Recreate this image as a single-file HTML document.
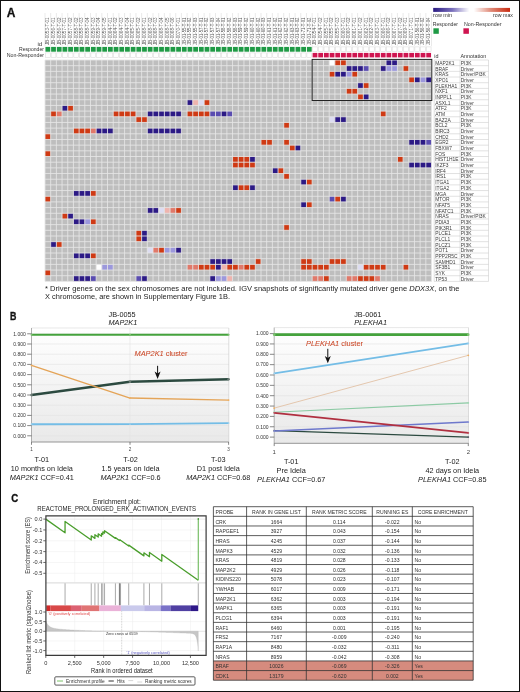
<!DOCTYPE html>
<html><head><meta charset="utf-8"><title>Figure</title>
<style>html,body{margin:0;padding:0;background:#fff;}body{width:520px;height:692px;overflow:hidden;font-family:"Liberation Sans", sans-serif;}svg{display:block;will-change:transform;}</style>
</head><body>
<svg width="520" height="692" viewBox="0 0 520 692" font-family='"Liberation Sans", sans-serif'>
<rect x="0" y="0" width="520" height="692" fill="#fff"/>
<text x="6.8" y="16.6" font-size="12" fill="#111" font-weight="bold" stroke="#111" stroke-width="0.3">A</text>
<g stroke="#d4d4d4" stroke-width="0.5">
<line x1="45" y1="13" x2="45" y2="46.3"/>
<line x1="50.68" y1="13" x2="50.68" y2="46.3"/>
<line x1="56.37" y1="13" x2="56.37" y2="46.3"/>
<line x1="62.05" y1="13" x2="62.05" y2="46.3"/>
<line x1="67.74" y1="13" x2="67.74" y2="46.3"/>
<line x1="73.42" y1="13" x2="73.42" y2="46.3"/>
<line x1="79.1" y1="13" x2="79.1" y2="46.3"/>
<line x1="84.79" y1="13" x2="84.79" y2="46.3"/>
<line x1="90.47" y1="13" x2="90.47" y2="46.3"/>
<line x1="96.16" y1="13" x2="96.16" y2="46.3"/>
<line x1="101.84" y1="13" x2="101.84" y2="46.3"/>
<line x1="107.52" y1="13" x2="107.52" y2="46.3"/>
<line x1="113.21" y1="13" x2="113.21" y2="46.3"/>
<line x1="118.89" y1="13" x2="118.89" y2="46.3"/>
<line x1="124.58" y1="13" x2="124.58" y2="46.3"/>
<line x1="130.26" y1="13" x2="130.26" y2="46.3"/>
<line x1="135.94" y1="13" x2="135.94" y2="46.3"/>
<line x1="141.63" y1="13" x2="141.63" y2="46.3"/>
<line x1="147.31" y1="13" x2="147.31" y2="46.3"/>
<line x1="153" y1="13" x2="153" y2="46.3"/>
<line x1="158.68" y1="13" x2="158.68" y2="46.3"/>
<line x1="164.36" y1="13" x2="164.36" y2="46.3"/>
<line x1="170.05" y1="13" x2="170.05" y2="46.3"/>
<line x1="175.73" y1="13" x2="175.73" y2="46.3"/>
<line x1="181.42" y1="13" x2="181.42" y2="46.3"/>
<line x1="187.1" y1="13" x2="187.1" y2="46.3"/>
<line x1="192.78" y1="13" x2="192.78" y2="46.3"/>
<line x1="198.47" y1="13" x2="198.47" y2="46.3"/>
<line x1="204.15" y1="13" x2="204.15" y2="46.3"/>
<line x1="209.84" y1="13" x2="209.84" y2="46.3"/>
<line x1="215.52" y1="13" x2="215.52" y2="46.3"/>
<line x1="221.2" y1="13" x2="221.2" y2="46.3"/>
<line x1="226.89" y1="13" x2="226.89" y2="46.3"/>
<line x1="232.57" y1="13" x2="232.57" y2="46.3"/>
<line x1="238.26" y1="13" x2="238.26" y2="46.3"/>
<line x1="243.94" y1="13" x2="243.94" y2="46.3"/>
<line x1="249.62" y1="13" x2="249.62" y2="46.3"/>
<line x1="255.31" y1="13" x2="255.31" y2="46.3"/>
<line x1="260.99" y1="13" x2="260.99" y2="46.3"/>
<line x1="266.68" y1="13" x2="266.68" y2="46.3"/>
<line x1="272.36" y1="13" x2="272.36" y2="46.3"/>
<line x1="278.04" y1="13" x2="278.04" y2="46.3"/>
<line x1="283.73" y1="13" x2="283.73" y2="46.3"/>
<line x1="289.41" y1="13" x2="289.41" y2="46.3"/>
<line x1="295.1" y1="13" x2="295.1" y2="46.3"/>
<line x1="300.78" y1="13" x2="300.78" y2="46.3"/>
<line x1="306.46" y1="13" x2="306.46" y2="46.3"/>
<line x1="312.15" y1="13" x2="312.15" y2="46.3"/>
<line x1="317.83" y1="13" x2="317.83" y2="46.3"/>
<line x1="323.52" y1="13" x2="323.52" y2="46.3"/>
<line x1="329.2" y1="13" x2="329.2" y2="46.3"/>
<line x1="334.88" y1="13" x2="334.88" y2="46.3"/>
<line x1="340.57" y1="13" x2="340.57" y2="46.3"/>
<line x1="346.25" y1="13" x2="346.25" y2="46.3"/>
<line x1="351.94" y1="13" x2="351.94" y2="46.3"/>
<line x1="357.62" y1="13" x2="357.62" y2="46.3"/>
<line x1="363.3" y1="13" x2="363.3" y2="46.3"/>
<line x1="368.99" y1="13" x2="368.99" y2="46.3"/>
<line x1="374.67" y1="13" x2="374.67" y2="46.3"/>
<line x1="380.36" y1="13" x2="380.36" y2="46.3"/>
<line x1="386.04" y1="13" x2="386.04" y2="46.3"/>
<line x1="391.72" y1="13" x2="391.72" y2="46.3"/>
<line x1="397.41" y1="13" x2="397.41" y2="46.3"/>
<line x1="403.09" y1="13" x2="403.09" y2="46.3"/>
<line x1="408.78" y1="13" x2="408.78" y2="46.3"/>
<line x1="414.46" y1="13" x2="414.46" y2="46.3"/>
<line x1="420.14" y1="13" x2="420.14" y2="46.3"/>
<line x1="425.83" y1="13" x2="425.83" y2="46.3"/>
<line x1="431.51" y1="13" x2="431.51" y2="46.3"/>
</g>
<g font-size="4.8" fill="#5a5a5a">
<text transform="translate(49.2,44.9) rotate(-90)" x="0" y="0" textLength="27.3" lengthAdjust="spacingAndGlyphs">JB-0053-T-01</text>
<text transform="translate(54.88,44.9) rotate(-90)" x="0" y="0" textLength="27.3" lengthAdjust="spacingAndGlyphs">JB-0056-T-01</text>
<text transform="translate(60.57,44.9) rotate(-90)" x="0" y="0" textLength="27.3" lengthAdjust="spacingAndGlyphs">JB-0056-T-02</text>
<text transform="translate(66.25,44.9) rotate(-90)" x="0" y="0" textLength="27.3" lengthAdjust="spacingAndGlyphs">JB-0057-T-01</text>
<text transform="translate(71.94,44.9) rotate(-90)" x="0" y="0" textLength="27.3" lengthAdjust="spacingAndGlyphs">JB-0057-T-02</text>
<text transform="translate(77.62,44.9) rotate(-90)" x="0" y="0" textLength="27.3" lengthAdjust="spacingAndGlyphs">JB-0058-T-02</text>
<text transform="translate(83.3,44.9) rotate(-90)" x="0" y="0" textLength="27.3" lengthAdjust="spacingAndGlyphs">JB-0058-T-03</text>
<text transform="translate(88.99,44.9) rotate(-90)" x="0" y="0" textLength="27.3" lengthAdjust="spacingAndGlyphs">JB-0058-T-04</text>
<text transform="translate(94.67,44.9) rotate(-90)" x="0" y="0" textLength="27.3" lengthAdjust="spacingAndGlyphs">JB-0059-T-03</text>
<text transform="translate(100.36,44.9) rotate(-90)" x="0" y="0" textLength="27.3" lengthAdjust="spacingAndGlyphs">JB-0059-T-04</text>
<text transform="translate(106.04,44.9) rotate(-90)" x="0" y="0" textLength="27.3" lengthAdjust="spacingAndGlyphs">JB-0059-T-05</text>
<text transform="translate(111.72,44.9) rotate(-90)" x="0" y="0" textLength="27.3" lengthAdjust="spacingAndGlyphs">JB-0064-T-01</text>
<text transform="translate(117.41,44.9) rotate(-90)" x="0" y="0" textLength="27.3" lengthAdjust="spacingAndGlyphs">JB-0064-T-02</text>
<text transform="translate(123.09,44.9) rotate(-90)" x="0" y="0" textLength="27.3" lengthAdjust="spacingAndGlyphs">JB-0064-T-03</text>
<text transform="translate(128.78,44.9) rotate(-90)" x="0" y="0" textLength="27.3" lengthAdjust="spacingAndGlyphs">JB-0064-T-04</text>
<text transform="translate(134.46,44.9) rotate(-90)" x="0" y="0" textLength="27.3" lengthAdjust="spacingAndGlyphs">JB-0065-T-01</text>
<text transform="translate(140.14,44.9) rotate(-90)" x="0" y="0" textLength="27.3" lengthAdjust="spacingAndGlyphs">JB-0065-T-02</text>
<text transform="translate(145.83,44.9) rotate(-90)" x="0" y="0" textLength="27.3" lengthAdjust="spacingAndGlyphs">JB-0068-T-01</text>
<text transform="translate(151.51,44.9) rotate(-90)" x="0" y="0" textLength="27.3" lengthAdjust="spacingAndGlyphs">JB-0068-T-02</text>
<text transform="translate(157.2,44.9) rotate(-90)" x="0" y="0" textLength="27.3" lengthAdjust="spacingAndGlyphs">JB-0068-T-03</text>
<text transform="translate(162.88,44.9) rotate(-90)" x="0" y="0" textLength="27.3" lengthAdjust="spacingAndGlyphs">JB-0068-T-04</text>
<text transform="translate(168.56,44.9) rotate(-90)" x="0" y="0" textLength="27.3" lengthAdjust="spacingAndGlyphs">JB-0068-T-05</text>
<text transform="translate(174.25,44.9) rotate(-90)" x="0" y="0" textLength="27.3" lengthAdjust="spacingAndGlyphs">JB-0068-T-06</text>
<text transform="translate(179.93,44.9) rotate(-90)" x="0" y="0" textLength="27.3" lengthAdjust="spacingAndGlyphs">JB-0070-T-01</text>
<text transform="translate(185.62,44.9) rotate(-90)" x="0" y="0" textLength="27.3" lengthAdjust="spacingAndGlyphs">JB-01-55-T-01</text>
<text transform="translate(191.3,44.9) rotate(-90)" x="0" y="0" textLength="27.3" lengthAdjust="spacingAndGlyphs">JB-01-55-T-02</text>
<text transform="translate(196.98,44.9) rotate(-90)" x="0" y="0" textLength="27.3" lengthAdjust="spacingAndGlyphs">JB-01-55-T-03</text>
<text transform="translate(202.67,44.9) rotate(-90)" x="0" y="0" textLength="27.3" lengthAdjust="spacingAndGlyphs">JB-01-57-T-01</text>
<text transform="translate(208.35,44.9) rotate(-90)" x="0" y="0" textLength="27.3" lengthAdjust="spacingAndGlyphs">JB-01-57-T-02</text>
<text transform="translate(214.04,44.9) rotate(-90)" x="0" y="0" textLength="27.3" lengthAdjust="spacingAndGlyphs">JB-01-57-T-03</text>
<text transform="translate(219.72,44.9) rotate(-90)" x="0" y="0" textLength="27.3" lengthAdjust="spacingAndGlyphs">JB-01-57-T-04</text>
<text transform="translate(225.4,44.9) rotate(-90)" x="0" y="0" textLength="27.3" lengthAdjust="spacingAndGlyphs">JB-01-58-T-01</text>
<text transform="translate(231.09,44.9) rotate(-90)" x="0" y="0" textLength="27.3" lengthAdjust="spacingAndGlyphs">JB-01-58-T-02</text>
<text transform="translate(236.77,44.9) rotate(-90)" x="0" y="0" textLength="27.3" lengthAdjust="spacingAndGlyphs">JB-01-58-T-03</text>
<text transform="translate(242.46,44.9) rotate(-90)" x="0" y="0" textLength="27.3" lengthAdjust="spacingAndGlyphs">JB-01-59-T-01</text>
<text transform="translate(248.14,44.9) rotate(-90)" x="0" y="0" textLength="27.3" lengthAdjust="spacingAndGlyphs">JB-01-59-T-02</text>
<text transform="translate(253.82,44.9) rotate(-90)" x="0" y="0" textLength="27.3" lengthAdjust="spacingAndGlyphs">JB-01-60-T-01</text>
<text transform="translate(259.51,44.9) rotate(-90)" x="0" y="0" textLength="27.3" lengthAdjust="spacingAndGlyphs">JB-01-60-T-02</text>
<text transform="translate(265.19,44.9) rotate(-90)" x="0" y="0" textLength="27.3" lengthAdjust="spacingAndGlyphs">JB-01-60-T-03</text>
<text transform="translate(270.88,44.9) rotate(-90)" x="0" y="0" textLength="27.3" lengthAdjust="spacingAndGlyphs">JB-01-61-T-01</text>
<text transform="translate(276.56,44.9) rotate(-90)" x="0" y="0" textLength="27.3" lengthAdjust="spacingAndGlyphs">JB-01-61-T-02</text>
<text transform="translate(282.24,44.9) rotate(-90)" x="0" y="0" textLength="27.3" lengthAdjust="spacingAndGlyphs">JB-01-62-T-01</text>
<text transform="translate(287.93,44.9) rotate(-90)" x="0" y="0" textLength="27.3" lengthAdjust="spacingAndGlyphs">JB-01-62-T-02</text>
<text transform="translate(293.61,44.9) rotate(-90)" x="0" y="0" textLength="27.3" lengthAdjust="spacingAndGlyphs">JB-01-63-T-01</text>
<text transform="translate(299.3,44.9) rotate(-90)" x="0" y="0" textLength="27.3" lengthAdjust="spacingAndGlyphs">JB-01-63-T-02</text>
<text transform="translate(304.98,44.9) rotate(-90)" x="0" y="0" textLength="27.3" lengthAdjust="spacingAndGlyphs">JB-01-71-T-01</text>
<text transform="translate(310.66,44.9) rotate(-90)" x="0" y="0" textLength="27.3" lengthAdjust="spacingAndGlyphs">JB-01-71-T-02</text>
<text transform="translate(316.35,44.9) rotate(-90)" x="0" y="0" textLength="27.3" lengthAdjust="spacingAndGlyphs">JB-0054-T-01</text>
<text transform="translate(322.03,44.9) rotate(-90)" x="0" y="0" textLength="27.3" lengthAdjust="spacingAndGlyphs">JB-0054-T-02</text>
<text transform="translate(327.72,44.9) rotate(-90)" x="0" y="0" textLength="27.3" lengthAdjust="spacingAndGlyphs">JB-0055-T-01</text>
<text transform="translate(333.4,44.9) rotate(-90)" x="0" y="0" textLength="27.3" lengthAdjust="spacingAndGlyphs">JB-0055-T-02</text>
<text transform="translate(339.08,44.9) rotate(-90)" x="0" y="0" textLength="27.3" lengthAdjust="spacingAndGlyphs">JB-0055-T-03</text>
<text transform="translate(344.77,44.9) rotate(-90)" x="0" y="0" textLength="27.3" lengthAdjust="spacingAndGlyphs">JB-0060-T-01</text>
<text transform="translate(350.45,44.9) rotate(-90)" x="0" y="0" textLength="27.3" lengthAdjust="spacingAndGlyphs">JB-0060-T-02</text>
<text transform="translate(356.14,44.9) rotate(-90)" x="0" y="0" textLength="27.3" lengthAdjust="spacingAndGlyphs">JB-0061-T-01</text>
<text transform="translate(361.82,44.9) rotate(-90)" x="0" y="0" textLength="27.3" lengthAdjust="spacingAndGlyphs">JB-0061-T-02</text>
<text transform="translate(367.5,44.9) rotate(-90)" x="0" y="0" textLength="27.3" lengthAdjust="spacingAndGlyphs">JB-0062-T-01</text>
<text transform="translate(373.19,44.9) rotate(-90)" x="0" y="0" textLength="27.3" lengthAdjust="spacingAndGlyphs">JB-0062-T-02</text>
<text transform="translate(378.87,44.9) rotate(-90)" x="0" y="0" textLength="27.3" lengthAdjust="spacingAndGlyphs">JB-0063-T-01</text>
<text transform="translate(384.56,44.9) rotate(-90)" x="0" y="0" textLength="27.3" lengthAdjust="spacingAndGlyphs">JB-0066-T-01</text>
<text transform="translate(390.24,44.9) rotate(-90)" x="0" y="0" textLength="27.3" lengthAdjust="spacingAndGlyphs">JB-0066-T-02</text>
<text transform="translate(395.92,44.9) rotate(-90)" x="0" y="0" textLength="27.3" lengthAdjust="spacingAndGlyphs">JB-0067-T-01</text>
<text transform="translate(401.61,44.9) rotate(-90)" x="0" y="0" textLength="27.3" lengthAdjust="spacingAndGlyphs">JB-0067-T-02</text>
<text transform="translate(407.29,44.9) rotate(-90)" x="0" y="0" textLength="27.3" lengthAdjust="spacingAndGlyphs">JB-0069-T-01</text>
<text transform="translate(412.98,44.9) rotate(-90)" x="0" y="0" textLength="27.3" lengthAdjust="spacingAndGlyphs">JB-0071-T-01</text>
<text transform="translate(418.66,44.9) rotate(-90)" x="0" y="0" textLength="27.3" lengthAdjust="spacingAndGlyphs">JB-01-56-T-01</text>
<text transform="translate(424.34,44.9) rotate(-90)" x="0" y="0" textLength="27.3" lengthAdjust="spacingAndGlyphs">JB-01-56-T-02</text>
<text transform="translate(430.03,44.9) rotate(-90)" x="0" y="0" textLength="27.3" lengthAdjust="spacingAndGlyphs">JB-01-56-T-04</text>
</g>
<text x="37.5" y="45.5" font-size="5.8" fill="#333" textLength="4.7" lengthAdjust="spacingAndGlyphs">id</text>
<text x="19" y="51.2" font-size="5.8" fill="#333" textLength="25" lengthAdjust="spacingAndGlyphs">Responder</text>
<text x="6.8" y="56.8" font-size="5.8" fill="#333" textLength="37.3" lengthAdjust="spacingAndGlyphs">Non-Responder</text>
<rect x="45.45" y="46.9" width="4.78" height="4.8" fill="#1f9a45"/>
<rect x="45.45" y="52.9" width="4.78" height="4.5" fill="#fff" stroke="#d6d6d6" stroke-width="0.5"/>
<rect x="51.13" y="46.9" width="4.78" height="4.8" fill="#1f9a45"/>
<rect x="51.13" y="52.9" width="4.78" height="4.5" fill="#fff" stroke="#d6d6d6" stroke-width="0.5"/>
<rect x="56.82" y="46.9" width="4.78" height="4.8" fill="#1f9a45"/>
<rect x="56.82" y="52.9" width="4.78" height="4.5" fill="#fff" stroke="#d6d6d6" stroke-width="0.5"/>
<rect x="62.5" y="46.9" width="4.78" height="4.8" fill="#1f9a45"/>
<rect x="62.5" y="52.9" width="4.78" height="4.5" fill="#fff" stroke="#d6d6d6" stroke-width="0.5"/>
<rect x="68.19" y="46.9" width="4.78" height="4.8" fill="#1f9a45"/>
<rect x="68.19" y="52.9" width="4.78" height="4.5" fill="#fff" stroke="#d6d6d6" stroke-width="0.5"/>
<rect x="73.87" y="46.9" width="4.78" height="4.8" fill="#1f9a45"/>
<rect x="73.87" y="52.9" width="4.78" height="4.5" fill="#fff" stroke="#d6d6d6" stroke-width="0.5"/>
<rect x="79.55" y="46.9" width="4.78" height="4.8" fill="#1f9a45"/>
<rect x="79.55" y="52.9" width="4.78" height="4.5" fill="#fff" stroke="#d6d6d6" stroke-width="0.5"/>
<rect x="85.24" y="46.9" width="4.78" height="4.8" fill="#1f9a45"/>
<rect x="85.24" y="52.9" width="4.78" height="4.5" fill="#fff" stroke="#d6d6d6" stroke-width="0.5"/>
<rect x="90.92" y="46.9" width="4.78" height="4.8" fill="#1f9a45"/>
<rect x="90.92" y="52.9" width="4.78" height="4.5" fill="#fff" stroke="#d6d6d6" stroke-width="0.5"/>
<rect x="96.61" y="46.9" width="4.78" height="4.8" fill="#1f9a45"/>
<rect x="96.61" y="52.9" width="4.78" height="4.5" fill="#fff" stroke="#d6d6d6" stroke-width="0.5"/>
<rect x="102.29" y="46.9" width="4.78" height="4.8" fill="#1f9a45"/>
<rect x="102.29" y="52.9" width="4.78" height="4.5" fill="#fff" stroke="#d6d6d6" stroke-width="0.5"/>
<rect x="107.97" y="46.9" width="4.78" height="4.8" fill="#1f9a45"/>
<rect x="107.97" y="52.9" width="4.78" height="4.5" fill="#fff" stroke="#d6d6d6" stroke-width="0.5"/>
<rect x="113.66" y="46.9" width="4.78" height="4.8" fill="#1f9a45"/>
<rect x="113.66" y="52.9" width="4.78" height="4.5" fill="#fff" stroke="#d6d6d6" stroke-width="0.5"/>
<rect x="119.34" y="46.9" width="4.78" height="4.8" fill="#1f9a45"/>
<rect x="119.34" y="52.9" width="4.78" height="4.5" fill="#fff" stroke="#d6d6d6" stroke-width="0.5"/>
<rect x="125.03" y="46.9" width="4.78" height="4.8" fill="#1f9a45"/>
<rect x="125.03" y="52.9" width="4.78" height="4.5" fill="#fff" stroke="#d6d6d6" stroke-width="0.5"/>
<rect x="130.71" y="46.9" width="4.78" height="4.8" fill="#1f9a45"/>
<rect x="130.71" y="52.9" width="4.78" height="4.5" fill="#fff" stroke="#d6d6d6" stroke-width="0.5"/>
<rect x="136.39" y="46.9" width="4.78" height="4.8" fill="#1f9a45"/>
<rect x="136.39" y="52.9" width="4.78" height="4.5" fill="#fff" stroke="#d6d6d6" stroke-width="0.5"/>
<rect x="142.08" y="46.9" width="4.78" height="4.8" fill="#1f9a45"/>
<rect x="142.08" y="52.9" width="4.78" height="4.5" fill="#fff" stroke="#d6d6d6" stroke-width="0.5"/>
<rect x="147.76" y="46.9" width="4.78" height="4.8" fill="#1f9a45"/>
<rect x="147.76" y="52.9" width="4.78" height="4.5" fill="#fff" stroke="#d6d6d6" stroke-width="0.5"/>
<rect x="153.45" y="46.9" width="4.78" height="4.8" fill="#1f9a45"/>
<rect x="153.45" y="52.9" width="4.78" height="4.5" fill="#fff" stroke="#d6d6d6" stroke-width="0.5"/>
<rect x="159.13" y="46.9" width="4.78" height="4.8" fill="#1f9a45"/>
<rect x="159.13" y="52.9" width="4.78" height="4.5" fill="#fff" stroke="#d6d6d6" stroke-width="0.5"/>
<rect x="164.81" y="46.9" width="4.78" height="4.8" fill="#1f9a45"/>
<rect x="164.81" y="52.9" width="4.78" height="4.5" fill="#fff" stroke="#d6d6d6" stroke-width="0.5"/>
<rect x="170.5" y="46.9" width="4.78" height="4.8" fill="#1f9a45"/>
<rect x="170.5" y="52.9" width="4.78" height="4.5" fill="#fff" stroke="#d6d6d6" stroke-width="0.5"/>
<rect x="176.18" y="46.9" width="4.78" height="4.8" fill="#1f9a45"/>
<rect x="176.18" y="52.9" width="4.78" height="4.5" fill="#fff" stroke="#d6d6d6" stroke-width="0.5"/>
<rect x="181.87" y="46.9" width="4.78" height="4.8" fill="#1f9a45"/>
<rect x="181.87" y="52.9" width="4.78" height="4.5" fill="#fff" stroke="#d6d6d6" stroke-width="0.5"/>
<rect x="187.55" y="46.9" width="4.78" height="4.8" fill="#1f9a45"/>
<rect x="187.55" y="52.9" width="4.78" height="4.5" fill="#fff" stroke="#d6d6d6" stroke-width="0.5"/>
<rect x="193.23" y="46.9" width="4.78" height="4.8" fill="#1f9a45"/>
<rect x="193.23" y="52.9" width="4.78" height="4.5" fill="#fff" stroke="#d6d6d6" stroke-width="0.5"/>
<rect x="198.92" y="46.9" width="4.78" height="4.8" fill="#1f9a45"/>
<rect x="198.92" y="52.9" width="4.78" height="4.5" fill="#fff" stroke="#d6d6d6" stroke-width="0.5"/>
<rect x="204.6" y="46.9" width="4.78" height="4.8" fill="#1f9a45"/>
<rect x="204.6" y="52.9" width="4.78" height="4.5" fill="#fff" stroke="#d6d6d6" stroke-width="0.5"/>
<rect x="210.29" y="46.9" width="4.78" height="4.8" fill="#1f9a45"/>
<rect x="210.29" y="52.9" width="4.78" height="4.5" fill="#fff" stroke="#d6d6d6" stroke-width="0.5"/>
<rect x="215.97" y="46.9" width="4.78" height="4.8" fill="#1f9a45"/>
<rect x="215.97" y="52.9" width="4.78" height="4.5" fill="#fff" stroke="#d6d6d6" stroke-width="0.5"/>
<rect x="221.65" y="46.9" width="4.78" height="4.8" fill="#1f9a45"/>
<rect x="221.65" y="52.9" width="4.78" height="4.5" fill="#fff" stroke="#d6d6d6" stroke-width="0.5"/>
<rect x="227.34" y="46.9" width="4.78" height="4.8" fill="#1f9a45"/>
<rect x="227.34" y="52.9" width="4.78" height="4.5" fill="#fff" stroke="#d6d6d6" stroke-width="0.5"/>
<rect x="233.02" y="46.9" width="4.78" height="4.8" fill="#1f9a45"/>
<rect x="233.02" y="52.9" width="4.78" height="4.5" fill="#fff" stroke="#d6d6d6" stroke-width="0.5"/>
<rect x="238.71" y="46.9" width="4.78" height="4.8" fill="#1f9a45"/>
<rect x="238.71" y="52.9" width="4.78" height="4.5" fill="#fff" stroke="#d6d6d6" stroke-width="0.5"/>
<rect x="244.39" y="46.9" width="4.78" height="4.8" fill="#1f9a45"/>
<rect x="244.39" y="52.9" width="4.78" height="4.5" fill="#fff" stroke="#d6d6d6" stroke-width="0.5"/>
<rect x="250.07" y="46.9" width="4.78" height="4.8" fill="#1f9a45"/>
<rect x="250.07" y="52.9" width="4.78" height="4.5" fill="#fff" stroke="#d6d6d6" stroke-width="0.5"/>
<rect x="255.76" y="46.9" width="4.78" height="4.8" fill="#1f9a45"/>
<rect x="255.76" y="52.9" width="4.78" height="4.5" fill="#fff" stroke="#d6d6d6" stroke-width="0.5"/>
<rect x="261.44" y="46.9" width="4.78" height="4.8" fill="#1f9a45"/>
<rect x="261.44" y="52.9" width="4.78" height="4.5" fill="#fff" stroke="#d6d6d6" stroke-width="0.5"/>
<rect x="267.13" y="46.9" width="4.78" height="4.8" fill="#1f9a45"/>
<rect x="267.13" y="52.9" width="4.78" height="4.5" fill="#fff" stroke="#d6d6d6" stroke-width="0.5"/>
<rect x="272.81" y="46.9" width="4.78" height="4.8" fill="#1f9a45"/>
<rect x="272.81" y="52.9" width="4.78" height="4.5" fill="#fff" stroke="#d6d6d6" stroke-width="0.5"/>
<rect x="278.49" y="46.9" width="4.78" height="4.8" fill="#1f9a45"/>
<rect x="278.49" y="52.9" width="4.78" height="4.5" fill="#fff" stroke="#d6d6d6" stroke-width="0.5"/>
<rect x="284.18" y="46.9" width="4.78" height="4.8" fill="#1f9a45"/>
<rect x="284.18" y="52.9" width="4.78" height="4.5" fill="#fff" stroke="#d6d6d6" stroke-width="0.5"/>
<rect x="289.86" y="46.9" width="4.78" height="4.8" fill="#1f9a45"/>
<rect x="289.86" y="52.9" width="4.78" height="4.5" fill="#fff" stroke="#d6d6d6" stroke-width="0.5"/>
<rect x="295.55" y="46.9" width="4.78" height="4.8" fill="#1f9a45"/>
<rect x="295.55" y="52.9" width="4.78" height="4.5" fill="#fff" stroke="#d6d6d6" stroke-width="0.5"/>
<rect x="301.23" y="46.9" width="4.78" height="4.8" fill="#1f9a45"/>
<rect x="301.23" y="52.9" width="4.78" height="4.5" fill="#fff" stroke="#d6d6d6" stroke-width="0.5"/>
<rect x="306.91" y="46.9" width="4.78" height="4.8" fill="#1f9a45"/>
<rect x="306.91" y="52.9" width="4.78" height="4.5" fill="#fff" stroke="#d6d6d6" stroke-width="0.5"/>
<rect x="312.6" y="46.9" width="4.78" height="4.8" fill="#fff" stroke="#d6d6d6" stroke-width="0.5"/>
<rect x="312.6" y="52.9" width="4.78" height="4.5" fill="#cf1550"/>
<rect x="318.28" y="46.9" width="4.78" height="4.8" fill="#fff" stroke="#d6d6d6" stroke-width="0.5"/>
<rect x="318.28" y="52.9" width="4.78" height="4.5" fill="#cf1550"/>
<rect x="323.97" y="46.9" width="4.78" height="4.8" fill="#fff" stroke="#d6d6d6" stroke-width="0.5"/>
<rect x="323.97" y="52.9" width="4.78" height="4.5" fill="#cf1550"/>
<rect x="329.65" y="46.9" width="4.78" height="4.8" fill="#fff" stroke="#d6d6d6" stroke-width="0.5"/>
<rect x="329.65" y="52.9" width="4.78" height="4.5" fill="#cf1550"/>
<rect x="335.33" y="46.9" width="4.78" height="4.8" fill="#fff" stroke="#d6d6d6" stroke-width="0.5"/>
<rect x="335.33" y="52.9" width="4.78" height="4.5" fill="#cf1550"/>
<rect x="341.02" y="46.9" width="4.78" height="4.8" fill="#fff" stroke="#d6d6d6" stroke-width="0.5"/>
<rect x="341.02" y="52.9" width="4.78" height="4.5" fill="#cf1550"/>
<rect x="346.7" y="46.9" width="4.78" height="4.8" fill="#fff" stroke="#d6d6d6" stroke-width="0.5"/>
<rect x="346.7" y="52.9" width="4.78" height="4.5" fill="#cf1550"/>
<rect x="352.39" y="46.9" width="4.78" height="4.8" fill="#fff" stroke="#d6d6d6" stroke-width="0.5"/>
<rect x="352.39" y="52.9" width="4.78" height="4.5" fill="#cf1550"/>
<rect x="358.07" y="46.9" width="4.78" height="4.8" fill="#fff" stroke="#d6d6d6" stroke-width="0.5"/>
<rect x="358.07" y="52.9" width="4.78" height="4.5" fill="#cf1550"/>
<rect x="363.75" y="46.9" width="4.78" height="4.8" fill="#fff" stroke="#d6d6d6" stroke-width="0.5"/>
<rect x="363.75" y="52.9" width="4.78" height="4.5" fill="#cf1550"/>
<rect x="369.44" y="46.9" width="4.78" height="4.8" fill="#fff" stroke="#d6d6d6" stroke-width="0.5"/>
<rect x="369.44" y="52.9" width="4.78" height="4.5" fill="#cf1550"/>
<rect x="375.12" y="46.9" width="4.78" height="4.8" fill="#fff" stroke="#d6d6d6" stroke-width="0.5"/>
<rect x="375.12" y="52.9" width="4.78" height="4.5" fill="#cf1550"/>
<rect x="380.81" y="46.9" width="4.78" height="4.8" fill="#fff" stroke="#d6d6d6" stroke-width="0.5"/>
<rect x="380.81" y="52.9" width="4.78" height="4.5" fill="#cf1550"/>
<rect x="386.49" y="46.9" width="4.78" height="4.8" fill="#fff" stroke="#d6d6d6" stroke-width="0.5"/>
<rect x="386.49" y="52.9" width="4.78" height="4.5" fill="#cf1550"/>
<rect x="392.17" y="46.9" width="4.78" height="4.8" fill="#fff" stroke="#d6d6d6" stroke-width="0.5"/>
<rect x="392.17" y="52.9" width="4.78" height="4.5" fill="#cf1550"/>
<rect x="397.86" y="46.9" width="4.78" height="4.8" fill="#fff" stroke="#d6d6d6" stroke-width="0.5"/>
<rect x="397.86" y="52.9" width="4.78" height="4.5" fill="#cf1550"/>
<rect x="403.54" y="46.9" width="4.78" height="4.8" fill="#fff" stroke="#d6d6d6" stroke-width="0.5"/>
<rect x="403.54" y="52.9" width="4.78" height="4.5" fill="#cf1550"/>
<rect x="409.23" y="46.9" width="4.78" height="4.8" fill="#fff" stroke="#d6d6d6" stroke-width="0.5"/>
<rect x="409.23" y="52.9" width="4.78" height="4.5" fill="#cf1550"/>
<rect x="414.91" y="46.9" width="4.78" height="4.8" fill="#fff" stroke="#d6d6d6" stroke-width="0.5"/>
<rect x="414.91" y="52.9" width="4.78" height="4.5" fill="#cf1550"/>
<rect x="420.59" y="46.9" width="4.78" height="4.8" fill="#fff" stroke="#d6d6d6" stroke-width="0.5"/>
<rect x="420.59" y="52.9" width="4.78" height="4.5" fill="#cf1550"/>
<rect x="426.28" y="46.9" width="4.78" height="4.8" fill="#fff" stroke="#d6d6d6" stroke-width="0.5"/>
<rect x="426.28" y="52.9" width="4.78" height="4.5" fill="#cf1550"/>
<rect x="45" y="60" width="386.51" height="221.4" fill="#bebebe"/>
<rect x="329.2" y="60" width="5.68" height="5.68" fill="#ffffff"/>
<rect x="334.88" y="60" width="5.68" height="5.68" fill="#cf3a14"/>
<rect x="340.57" y="60" width="5.68" height="5.68" fill="#cf3a14"/>
<rect x="386.04" y="60" width="5.68" height="5.68" fill="#2c1a85"/>
<rect x="391.72" y="60" width="5.68" height="5.68" fill="#2c1a85"/>
<rect x="346.25" y="65.68" width="5.68" height="5.68" fill="#2c1a85"/>
<rect x="351.94" y="65.68" width="5.68" height="5.68" fill="#2c1a85"/>
<rect x="357.62" y="65.68" width="5.68" height="5.68" fill="#2c1a85"/>
<rect x="363.3" y="65.68" width="5.68" height="5.68" fill="#5a4cb0"/>
<rect x="380.36" y="65.68" width="5.68" height="5.68" fill="#2c1a85"/>
<rect x="386.04" y="65.68" width="5.68" height="5.68" fill="#9c98dc"/>
<rect x="391.72" y="65.68" width="5.68" height="5.68" fill="#9c98dc"/>
<rect x="403.09" y="65.68" width="5.68" height="5.68" fill="#cf3a14"/>
<rect x="329.2" y="71.35" width="5.68" height="5.68" fill="#cf3a14"/>
<rect x="334.88" y="71.35" width="5.68" height="5.68" fill="#2c1a85"/>
<rect x="340.57" y="71.35" width="5.68" height="5.68" fill="#2c1a85"/>
<rect x="346.25" y="71.35" width="5.68" height="5.68" fill="#9c98dc"/>
<rect x="351.94" y="71.35" width="5.68" height="5.68" fill="#cf3a14"/>
<rect x="408.78" y="77.03" width="5.68" height="5.68" fill="#cf3a14"/>
<rect x="414.46" y="77.03" width="5.68" height="5.68" fill="#2c1a85"/>
<rect x="420.14" y="77.03" width="5.68" height="5.68" fill="#9c98dc"/>
<rect x="425.83" y="77.03" width="5.68" height="5.68" fill="#2c1a85"/>
<rect x="357.62" y="82.71" width="5.68" height="5.68" fill="#2c1a85"/>
<rect x="363.3" y="82.71" width="5.68" height="5.68" fill="#cf3a14"/>
<rect x="346.25" y="88.38" width="5.68" height="5.68" fill="#cf3a14"/>
<rect x="351.94" y="88.38" width="5.68" height="5.68" fill="#cf3a14"/>
<rect x="357.62" y="94.06" width="5.68" height="5.68" fill="#cf3a14"/>
<rect x="363.3" y="94.06" width="5.68" height="5.68" fill="#2c1a85"/>
<rect x="187.1" y="99.74" width="5.68" height="5.68" fill="#2c1a85"/>
<rect x="192.78" y="99.74" width="5.68" height="5.68" fill="#eeb4ae"/>
<rect x="198.47" y="99.74" width="5.68" height="5.68" fill="#dcdcf2"/>
<rect x="204.15" y="99.74" width="5.68" height="5.68" fill="#cf3a14"/>
<rect x="62.05" y="105.42" width="5.68" height="5.68" fill="#2c1a85"/>
<rect x="67.74" y="105.42" width="5.68" height="5.68" fill="#cf3a14"/>
<rect x="50.68" y="111.09" width="5.68" height="5.68" fill="#cf3a14"/>
<rect x="56.37" y="111.09" width="5.68" height="5.68" fill="#e0796a"/>
<rect x="113.21" y="111.09" width="5.68" height="5.68" fill="#cf3a14"/>
<rect x="118.89" y="111.09" width="5.68" height="5.68" fill="#cf3a14"/>
<rect x="124.58" y="111.09" width="5.68" height="5.68" fill="#cf3a14"/>
<rect x="130.26" y="111.09" width="5.68" height="5.68" fill="#cf3a14"/>
<rect x="147.31" y="111.09" width="5.68" height="5.68" fill="#2c1a85"/>
<rect x="153" y="111.09" width="5.68" height="5.68" fill="#2c1a85"/>
<rect x="158.68" y="111.09" width="5.68" height="5.68" fill="#2c1a85"/>
<rect x="164.36" y="111.09" width="5.68" height="5.68" fill="#2c1a85"/>
<rect x="170.05" y="111.09" width="5.68" height="5.68" fill="#2c1a85"/>
<rect x="175.73" y="111.09" width="5.68" height="5.68" fill="#2c1a85"/>
<rect x="187.1" y="111.09" width="5.68" height="5.68" fill="#cf3a14"/>
<rect x="192.78" y="111.09" width="5.68" height="5.68" fill="#cf3a14"/>
<rect x="198.47" y="111.09" width="5.68" height="5.68" fill="#cf3a14"/>
<rect x="204.15" y="111.09" width="5.68" height="5.68" fill="#cf3a14"/>
<rect x="209.84" y="111.09" width="5.68" height="5.68" fill="#5a4cb0"/>
<rect x="215.52" y="111.09" width="5.68" height="5.68" fill="#5a4cb0"/>
<rect x="221.2" y="111.09" width="5.68" height="5.68" fill="#2c1a85"/>
<rect x="226.89" y="111.09" width="5.68" height="5.68" fill="#5a4cb0"/>
<rect x="380.36" y="111.09" width="5.68" height="5.68" fill="#cf3a14"/>
<rect x="135.94" y="116.77" width="5.68" height="5.68" fill="#cf3a14"/>
<rect x="141.63" y="116.77" width="5.68" height="5.68" fill="#cf3a14"/>
<rect x="329.2" y="116.77" width="5.68" height="5.68" fill="#dcdcf2"/>
<rect x="334.88" y="116.77" width="5.68" height="5.68" fill="#2c1a85"/>
<rect x="340.57" y="116.77" width="5.68" height="5.68" fill="#2c1a85"/>
<rect x="283.73" y="122.45" width="5.68" height="5.68" fill="#cf3a14"/>
<rect x="73.42" y="128.12" width="5.68" height="5.68" fill="#cf3a14"/>
<rect x="79.1" y="128.12" width="5.68" height="5.68" fill="#cf3a14"/>
<rect x="84.79" y="128.12" width="5.68" height="5.68" fill="#cf3a14"/>
<rect x="90.47" y="128.12" width="5.68" height="5.68" fill="#e0796a"/>
<rect x="96.16" y="128.12" width="5.68" height="5.68" fill="#2c1a85"/>
<rect x="101.84" y="128.12" width="5.68" height="5.68" fill="#2c1a85"/>
<rect x="107.52" y="128.12" width="5.68" height="5.68" fill="#2c1a85"/>
<rect x="147.31" y="128.12" width="5.68" height="5.68" fill="#2c1a85"/>
<rect x="153" y="128.12" width="5.68" height="5.68" fill="#2c1a85"/>
<rect x="158.68" y="128.12" width="5.68" height="5.68" fill="#2c1a85"/>
<rect x="164.36" y="128.12" width="5.68" height="5.68" fill="#2c1a85"/>
<rect x="170.05" y="128.12" width="5.68" height="5.68" fill="#2c1a85"/>
<rect x="175.73" y="128.12" width="5.68" height="5.68" fill="#2c1a85"/>
<rect x="45" y="133.8" width="5.68" height="5.68" fill="#cf3a14"/>
<rect x="260.99" y="139.48" width="5.68" height="5.68" fill="#cf3a14"/>
<rect x="266.68" y="139.48" width="5.68" height="5.68" fill="#cf3a14"/>
<rect x="283.73" y="139.48" width="5.68" height="5.68" fill="#cf3a14"/>
<rect x="408.78" y="139.48" width="5.68" height="5.68" fill="#2c1a85"/>
<rect x="414.46" y="139.48" width="5.68" height="5.68" fill="#2c1a85"/>
<rect x="420.14" y="139.48" width="5.68" height="5.68" fill="#2c1a85"/>
<rect x="425.83" y="139.48" width="5.68" height="5.68" fill="#5a4cb0"/>
<rect x="289.41" y="145.16" width="5.68" height="5.68" fill="#cf3a14"/>
<rect x="295.1" y="145.16" width="5.68" height="5.68" fill="#2c1a85"/>
<rect x="45" y="150.83" width="5.68" height="5.68" fill="#cf3a14"/>
<rect x="232.57" y="156.51" width="5.68" height="5.68" fill="#cf3a14"/>
<rect x="238.26" y="156.51" width="5.68" height="5.68" fill="#cf3a14"/>
<rect x="243.94" y="156.51" width="5.68" height="5.68" fill="#cf3a14"/>
<rect x="249.62" y="156.51" width="5.68" height="5.68" fill="#2c1a85"/>
<rect x="397.41" y="156.51" width="5.68" height="5.68" fill="#cf3a14"/>
<rect x="232.57" y="162.19" width="5.68" height="5.68" fill="#cf3a14"/>
<rect x="238.26" y="162.19" width="5.68" height="5.68" fill="#cf3a14"/>
<rect x="243.94" y="162.19" width="5.68" height="5.68" fill="#cf3a14"/>
<rect x="249.62" y="162.19" width="5.68" height="5.68" fill="#cf3a14"/>
<rect x="408.78" y="162.19" width="5.68" height="5.68" fill="#2c1a85"/>
<rect x="414.46" y="162.19" width="5.68" height="5.68" fill="#2c1a85"/>
<rect x="420.14" y="162.19" width="5.68" height="5.68" fill="#2c1a85"/>
<rect x="425.83" y="162.19" width="5.68" height="5.68" fill="#2c1a85"/>
<rect x="272.36" y="167.86" width="5.68" height="5.68" fill="#2c1a85"/>
<rect x="278.04" y="167.86" width="5.68" height="5.68" fill="#cf3a14"/>
<rect x="283.73" y="173.54" width="5.68" height="5.68" fill="#cf3a14"/>
<rect x="300.78" y="179.22" width="5.68" height="5.68" fill="#2c1a85"/>
<rect x="306.46" y="179.22" width="5.68" height="5.68" fill="#cf3a14"/>
<rect x="232.57" y="184.89" width="5.68" height="5.68" fill="#2c1a85"/>
<rect x="238.26" y="184.89" width="5.68" height="5.68" fill="#cf3a14"/>
<rect x="243.94" y="184.89" width="5.68" height="5.68" fill="#cf3a14"/>
<rect x="249.62" y="184.89" width="5.68" height="5.68" fill="#2c1a85"/>
<rect x="73.42" y="190.57" width="5.68" height="5.68" fill="#2c1a85"/>
<rect x="79.1" y="190.57" width="5.68" height="5.68" fill="#2c1a85"/>
<rect x="84.79" y="190.57" width="5.68" height="5.68" fill="#2c1a85"/>
<rect x="90.47" y="190.57" width="5.68" height="5.68" fill="#cf3a14"/>
<rect x="45" y="196.25" width="5.68" height="5.68" fill="#cf3a14"/>
<rect x="329.2" y="196.25" width="5.68" height="5.68" fill="#5a4cb0"/>
<rect x="334.88" y="196.25" width="5.68" height="5.68" fill="#cf3a14"/>
<rect x="340.57" y="196.25" width="5.68" height="5.68" fill="#2c1a85"/>
<rect x="300.78" y="201.92" width="5.68" height="5.68" fill="#2c1a85"/>
<rect x="306.46" y="201.92" width="5.68" height="5.68" fill="#cf3a14"/>
<rect x="147.31" y="207.6" width="5.68" height="5.68" fill="#2c1a85"/>
<rect x="153" y="207.6" width="5.68" height="5.68" fill="#2c1a85"/>
<rect x="158.68" y="207.6" width="5.68" height="5.68" fill="#dcdcf2"/>
<rect x="164.36" y="207.6" width="5.68" height="5.68" fill="#eeb4ae"/>
<rect x="170.05" y="207.6" width="5.68" height="5.68" fill="#e0796a"/>
<rect x="175.73" y="207.6" width="5.68" height="5.68" fill="#cf3a14"/>
<rect x="62.05" y="213.28" width="5.68" height="5.68" fill="#cf3a14"/>
<rect x="67.74" y="213.28" width="5.68" height="5.68" fill="#2c1a85"/>
<rect x="73.42" y="218.96" width="5.68" height="5.68" fill="#2c1a85"/>
<rect x="79.1" y="218.96" width="5.68" height="5.68" fill="#2c1a85"/>
<rect x="84.79" y="218.96" width="5.68" height="5.68" fill="#9c98dc"/>
<rect x="90.47" y="218.96" width="5.68" height="5.68" fill="#cf3a14"/>
<rect x="283.73" y="224.63" width="5.68" height="5.68" fill="#cf3a14"/>
<rect x="135.94" y="230.31" width="5.68" height="5.68" fill="#cf3a14"/>
<rect x="141.63" y="230.31" width="5.68" height="5.68" fill="#2c1a85"/>
<rect x="135.94" y="235.99" width="5.68" height="5.68" fill="#cf3a14"/>
<rect x="141.63" y="235.99" width="5.68" height="5.68" fill="#2c1a85"/>
<rect x="50.68" y="241.66" width="5.68" height="5.68" fill="#2c1a85"/>
<rect x="56.37" y="241.66" width="5.68" height="5.68" fill="#cf3a14"/>
<rect x="147.31" y="247.34" width="5.68" height="5.68" fill="#dcdcf2"/>
<rect x="153" y="247.34" width="5.68" height="5.68" fill="#e0796a"/>
<rect x="158.68" y="247.34" width="5.68" height="5.68" fill="#cf3a14"/>
<rect x="164.36" y="247.34" width="5.68" height="5.68" fill="#9c98dc"/>
<rect x="170.05" y="247.34" width="5.68" height="5.68" fill="#9c98dc"/>
<rect x="175.73" y="247.34" width="5.68" height="5.68" fill="#2c1a85"/>
<rect x="73.42" y="253.02" width="5.68" height="5.68" fill="#2c1a85"/>
<rect x="79.1" y="253.02" width="5.68" height="5.68" fill="#2c1a85"/>
<rect x="84.79" y="253.02" width="5.68" height="5.68" fill="#2c1a85"/>
<rect x="90.47" y="253.02" width="5.68" height="5.68" fill="#cf3a14"/>
<rect x="209.84" y="258.69" width="5.68" height="5.68" fill="#2c1a85"/>
<rect x="215.52" y="258.69" width="5.68" height="5.68" fill="#2c1a85"/>
<rect x="221.2" y="258.69" width="5.68" height="5.68" fill="#2c1a85"/>
<rect x="226.89" y="258.69" width="5.68" height="5.68" fill="#2c1a85"/>
<rect x="255.31" y="258.69" width="5.68" height="5.68" fill="#cf3a14"/>
<rect x="300.78" y="258.69" width="5.68" height="5.68" fill="#cf3a14"/>
<rect x="306.46" y="258.69" width="5.68" height="5.68" fill="#cf3a14"/>
<rect x="329.2" y="258.69" width="5.68" height="5.68" fill="#cf3a14"/>
<rect x="334.88" y="258.69" width="5.68" height="5.68" fill="#cf3a14"/>
<rect x="340.57" y="258.69" width="5.68" height="5.68" fill="#cf3a14"/>
<rect x="96.16" y="264.37" width="5.68" height="5.68" fill="#ffffff"/>
<rect x="101.84" y="264.37" width="5.68" height="5.68" fill="#9c98dc"/>
<rect x="107.52" y="264.37" width="5.68" height="5.68" fill="#9c98dc"/>
<rect x="187.1" y="264.37" width="5.68" height="5.68" fill="#e0796a"/>
<rect x="192.78" y="264.37" width="5.68" height="5.68" fill="#e0796a"/>
<rect x="198.47" y="264.37" width="5.68" height="5.68" fill="#cf3a14"/>
<rect x="204.15" y="264.37" width="5.68" height="5.68" fill="#cf3a14"/>
<rect x="209.84" y="264.37" width="5.68" height="5.68" fill="#cf3a14"/>
<rect x="215.52" y="264.37" width="5.68" height="5.68" fill="#2c1a85"/>
<rect x="221.2" y="264.37" width="5.68" height="5.68" fill="#eeb4ae"/>
<rect x="226.89" y="264.37" width="5.68" height="5.68" fill="#cf3a14"/>
<rect x="232.57" y="264.37" width="5.68" height="5.68" fill="#cf3a14"/>
<rect x="238.26" y="264.37" width="5.68" height="5.68" fill="#e0796a"/>
<rect x="243.94" y="264.37" width="5.68" height="5.68" fill="#cf3a14"/>
<rect x="249.62" y="264.37" width="5.68" height="5.68" fill="#cf3a14"/>
<rect x="300.78" y="264.37" width="5.68" height="5.68" fill="#cf3a14"/>
<rect x="306.46" y="264.37" width="5.68" height="5.68" fill="#cf3a14"/>
<rect x="312.15" y="264.37" width="5.68" height="5.68" fill="#cf3a14"/>
<rect x="317.83" y="264.37" width="5.68" height="5.68" fill="#cf3a14"/>
<rect x="323.52" y="264.37" width="5.68" height="5.68" fill="#cf3a14"/>
<rect x="357.62" y="264.37" width="5.68" height="5.68" fill="#dcdcf2"/>
<rect x="363.3" y="264.37" width="5.68" height="5.68" fill="#cf3a14"/>
<rect x="368.99" y="264.37" width="5.68" height="5.68" fill="#cf3a14"/>
<rect x="374.67" y="264.37" width="5.68" height="5.68" fill="#cf3a14"/>
<rect x="380.36" y="264.37" width="5.68" height="5.68" fill="#cf3a14"/>
<rect x="403.09" y="264.37" width="5.68" height="5.68" fill="#cf3a14"/>
<rect x="45" y="270.05" width="5.68" height="5.68" fill="#cf3a14"/>
<rect x="73.42" y="275.73" width="5.68" height="5.68" fill="#2c1a85"/>
<rect x="79.1" y="275.73" width="5.68" height="5.68" fill="#2c1a85"/>
<rect x="84.79" y="275.73" width="5.68" height="5.68" fill="#2c1a85"/>
<rect x="90.47" y="275.73" width="5.68" height="5.68" fill="#5a4cb0"/>
<rect x="135.94" y="275.73" width="5.68" height="5.68" fill="#5a4cb0"/>
<rect x="141.63" y="275.73" width="5.68" height="5.68" fill="#2c1a85"/>
<rect x="209.84" y="275.73" width="5.68" height="5.68" fill="#2c1a85"/>
<rect x="215.52" y="275.73" width="5.68" height="5.68" fill="#9c98dc"/>
<rect x="221.2" y="275.73" width="5.68" height="5.68" fill="#9c98dc"/>
<rect x="226.89" y="275.73" width="5.68" height="5.68" fill="#eeb4ae"/>
<rect x="312.15" y="275.73" width="5.68" height="5.68" fill="#e0796a"/>
<rect x="317.83" y="275.73" width="5.68" height="5.68" fill="#e0796a"/>
<rect x="323.52" y="275.73" width="5.68" height="5.68" fill="#cf3a14"/>
<rect x="346.25" y="275.73" width="5.68" height="5.68" fill="#e0796a"/>
<rect x="351.94" y="275.73" width="5.68" height="5.68" fill="#e0796a"/>
<rect x="357.62" y="275.73" width="5.68" height="5.68" fill="#cf3a14"/>
<rect x="363.3" y="275.73" width="5.68" height="5.68" fill="#cf3a14"/>
<rect x="368.99" y="275.73" width="5.68" height="5.68" fill="#cf3a14"/>
<rect x="374.67" y="275.73" width="5.68" height="5.68" fill="#e0796a"/>
<g stroke="#e6e6e6" stroke-width="0.85">
<line x1="45" y1="60" x2="45" y2="281.4"/>
<line x1="50.68" y1="60" x2="50.68" y2="281.4"/>
<line x1="56.37" y1="60" x2="56.37" y2="281.4"/>
<line x1="62.05" y1="60" x2="62.05" y2="281.4"/>
<line x1="67.74" y1="60" x2="67.74" y2="281.4"/>
<line x1="73.42" y1="60" x2="73.42" y2="281.4"/>
<line x1="79.1" y1="60" x2="79.1" y2="281.4"/>
<line x1="84.79" y1="60" x2="84.79" y2="281.4"/>
<line x1="90.47" y1="60" x2="90.47" y2="281.4"/>
<line x1="96.16" y1="60" x2="96.16" y2="281.4"/>
<line x1="101.84" y1="60" x2="101.84" y2="281.4"/>
<line x1="107.52" y1="60" x2="107.52" y2="281.4"/>
<line x1="113.21" y1="60" x2="113.21" y2="281.4"/>
<line x1="118.89" y1="60" x2="118.89" y2="281.4"/>
<line x1="124.58" y1="60" x2="124.58" y2="281.4"/>
<line x1="130.26" y1="60" x2="130.26" y2="281.4"/>
<line x1="135.94" y1="60" x2="135.94" y2="281.4"/>
<line x1="141.63" y1="60" x2="141.63" y2="281.4"/>
<line x1="147.31" y1="60" x2="147.31" y2="281.4"/>
<line x1="153" y1="60" x2="153" y2="281.4"/>
<line x1="158.68" y1="60" x2="158.68" y2="281.4"/>
<line x1="164.36" y1="60" x2="164.36" y2="281.4"/>
<line x1="170.05" y1="60" x2="170.05" y2="281.4"/>
<line x1="175.73" y1="60" x2="175.73" y2="281.4"/>
<line x1="181.42" y1="60" x2="181.42" y2="281.4"/>
<line x1="187.1" y1="60" x2="187.1" y2="281.4"/>
<line x1="192.78" y1="60" x2="192.78" y2="281.4"/>
<line x1="198.47" y1="60" x2="198.47" y2="281.4"/>
<line x1="204.15" y1="60" x2="204.15" y2="281.4"/>
<line x1="209.84" y1="60" x2="209.84" y2="281.4"/>
<line x1="215.52" y1="60" x2="215.52" y2="281.4"/>
<line x1="221.2" y1="60" x2="221.2" y2="281.4"/>
<line x1="226.89" y1="60" x2="226.89" y2="281.4"/>
<line x1="232.57" y1="60" x2="232.57" y2="281.4"/>
<line x1="238.26" y1="60" x2="238.26" y2="281.4"/>
<line x1="243.94" y1="60" x2="243.94" y2="281.4"/>
<line x1="249.62" y1="60" x2="249.62" y2="281.4"/>
<line x1="255.31" y1="60" x2="255.31" y2="281.4"/>
<line x1="260.99" y1="60" x2="260.99" y2="281.4"/>
<line x1="266.68" y1="60" x2="266.68" y2="281.4"/>
<line x1="272.36" y1="60" x2="272.36" y2="281.4"/>
<line x1="278.04" y1="60" x2="278.04" y2="281.4"/>
<line x1="283.73" y1="60" x2="283.73" y2="281.4"/>
<line x1="289.41" y1="60" x2="289.41" y2="281.4"/>
<line x1="295.1" y1="60" x2="295.1" y2="281.4"/>
<line x1="300.78" y1="60" x2="300.78" y2="281.4"/>
<line x1="306.46" y1="60" x2="306.46" y2="281.4"/>
<line x1="312.15" y1="60" x2="312.15" y2="281.4"/>
<line x1="317.83" y1="60" x2="317.83" y2="281.4"/>
<line x1="323.52" y1="60" x2="323.52" y2="281.4"/>
<line x1="329.2" y1="60" x2="329.2" y2="281.4"/>
<line x1="334.88" y1="60" x2="334.88" y2="281.4"/>
<line x1="340.57" y1="60" x2="340.57" y2="281.4"/>
<line x1="346.25" y1="60" x2="346.25" y2="281.4"/>
<line x1="351.94" y1="60" x2="351.94" y2="281.4"/>
<line x1="357.62" y1="60" x2="357.62" y2="281.4"/>
<line x1="363.3" y1="60" x2="363.3" y2="281.4"/>
<line x1="368.99" y1="60" x2="368.99" y2="281.4"/>
<line x1="374.67" y1="60" x2="374.67" y2="281.4"/>
<line x1="380.36" y1="60" x2="380.36" y2="281.4"/>
<line x1="386.04" y1="60" x2="386.04" y2="281.4"/>
<line x1="391.72" y1="60" x2="391.72" y2="281.4"/>
<line x1="397.41" y1="60" x2="397.41" y2="281.4"/>
<line x1="403.09" y1="60" x2="403.09" y2="281.4"/>
<line x1="408.78" y1="60" x2="408.78" y2="281.4"/>
<line x1="414.46" y1="60" x2="414.46" y2="281.4"/>
<line x1="420.14" y1="60" x2="420.14" y2="281.4"/>
<line x1="425.83" y1="60" x2="425.83" y2="281.4"/>
<line x1="431.51" y1="60" x2="431.51" y2="281.4"/>
<line x1="45" y1="60" x2="431.51" y2="60"/>
<line x1="45" y1="65.68" x2="431.51" y2="65.68"/>
<line x1="45" y1="71.35" x2="431.51" y2="71.35"/>
<line x1="45" y1="77.03" x2="431.51" y2="77.03"/>
<line x1="45" y1="82.71" x2="431.51" y2="82.71"/>
<line x1="45" y1="88.38" x2="431.51" y2="88.38"/>
<line x1="45" y1="94.06" x2="431.51" y2="94.06"/>
<line x1="45" y1="99.74" x2="431.51" y2="99.74"/>
<line x1="45" y1="105.42" x2="431.51" y2="105.42"/>
<line x1="45" y1="111.09" x2="431.51" y2="111.09"/>
<line x1="45" y1="116.77" x2="431.51" y2="116.77"/>
<line x1="45" y1="122.45" x2="431.51" y2="122.45"/>
<line x1="45" y1="128.12" x2="431.51" y2="128.12"/>
<line x1="45" y1="133.8" x2="431.51" y2="133.8"/>
<line x1="45" y1="139.48" x2="431.51" y2="139.48"/>
<line x1="45" y1="145.16" x2="431.51" y2="145.16"/>
<line x1="45" y1="150.83" x2="431.51" y2="150.83"/>
<line x1="45" y1="156.51" x2="431.51" y2="156.51"/>
<line x1="45" y1="162.19" x2="431.51" y2="162.19"/>
<line x1="45" y1="167.86" x2="431.51" y2="167.86"/>
<line x1="45" y1="173.54" x2="431.51" y2="173.54"/>
<line x1="45" y1="179.22" x2="431.51" y2="179.22"/>
<line x1="45" y1="184.89" x2="431.51" y2="184.89"/>
<line x1="45" y1="190.57" x2="431.51" y2="190.57"/>
<line x1="45" y1="196.25" x2="431.51" y2="196.25"/>
<line x1="45" y1="201.92" x2="431.51" y2="201.92"/>
<line x1="45" y1="207.6" x2="431.51" y2="207.6"/>
<line x1="45" y1="213.28" x2="431.51" y2="213.28"/>
<line x1="45" y1="218.96" x2="431.51" y2="218.96"/>
<line x1="45" y1="224.63" x2="431.51" y2="224.63"/>
<line x1="45" y1="230.31" x2="431.51" y2="230.31"/>
<line x1="45" y1="235.99" x2="431.51" y2="235.99"/>
<line x1="45" y1="241.66" x2="431.51" y2="241.66"/>
<line x1="45" y1="247.34" x2="431.51" y2="247.34"/>
<line x1="45" y1="253.02" x2="431.51" y2="253.02"/>
<line x1="45" y1="258.69" x2="431.51" y2="258.69"/>
<line x1="45" y1="264.37" x2="431.51" y2="264.37"/>
<line x1="45" y1="270.05" x2="431.51" y2="270.05"/>
<line x1="45" y1="275.73" x2="431.51" y2="275.73"/>
<line x1="45" y1="281.4" x2="431.51" y2="281.4"/>
</g>
<rect x="312.15" y="59.4" width="119.66" height="41.1" fill="none" stroke="#222" stroke-width="1"/>
<g stroke="#c4c4c4" stroke-width="0.5" fill="none">
<line x1="434.2" y1="60" x2="488.5" y2="60"/>
<line x1="434.2" y1="65.68" x2="488.5" y2="65.68"/>
<line x1="434.2" y1="71.35" x2="488.5" y2="71.35"/>
<line x1="434.2" y1="77.03" x2="488.5" y2="77.03"/>
<line x1="434.2" y1="82.71" x2="488.5" y2="82.71"/>
<line x1="434.2" y1="88.38" x2="488.5" y2="88.38"/>
<line x1="434.2" y1="94.06" x2="488.5" y2="94.06"/>
<line x1="434.2" y1="99.74" x2="488.5" y2="99.74"/>
<line x1="434.2" y1="105.42" x2="488.5" y2="105.42"/>
<line x1="434.2" y1="111.09" x2="488.5" y2="111.09"/>
<line x1="434.2" y1="116.77" x2="488.5" y2="116.77"/>
<line x1="434.2" y1="122.45" x2="488.5" y2="122.45"/>
<line x1="434.2" y1="128.12" x2="488.5" y2="128.12"/>
<line x1="434.2" y1="133.8" x2="488.5" y2="133.8"/>
<line x1="434.2" y1="139.48" x2="488.5" y2="139.48"/>
<line x1="434.2" y1="145.16" x2="488.5" y2="145.16"/>
<line x1="434.2" y1="150.83" x2="488.5" y2="150.83"/>
<line x1="434.2" y1="156.51" x2="488.5" y2="156.51"/>
<line x1="434.2" y1="162.19" x2="488.5" y2="162.19"/>
<line x1="434.2" y1="167.86" x2="488.5" y2="167.86"/>
<line x1="434.2" y1="173.54" x2="488.5" y2="173.54"/>
<line x1="434.2" y1="179.22" x2="488.5" y2="179.22"/>
<line x1="434.2" y1="184.89" x2="488.5" y2="184.89"/>
<line x1="434.2" y1="190.57" x2="488.5" y2="190.57"/>
<line x1="434.2" y1="196.25" x2="488.5" y2="196.25"/>
<line x1="434.2" y1="201.92" x2="488.5" y2="201.92"/>
<line x1="434.2" y1="207.6" x2="488.5" y2="207.6"/>
<line x1="434.2" y1="213.28" x2="488.5" y2="213.28"/>
<line x1="434.2" y1="218.96" x2="488.5" y2="218.96"/>
<line x1="434.2" y1="224.63" x2="488.5" y2="224.63"/>
<line x1="434.2" y1="230.31" x2="488.5" y2="230.31"/>
<line x1="434.2" y1="235.99" x2="488.5" y2="235.99"/>
<line x1="434.2" y1="241.66" x2="488.5" y2="241.66"/>
<line x1="434.2" y1="247.34" x2="488.5" y2="247.34"/>
<line x1="434.2" y1="253.02" x2="488.5" y2="253.02"/>
<line x1="434.2" y1="258.69" x2="488.5" y2="258.69"/>
<line x1="434.2" y1="264.37" x2="488.5" y2="264.37"/>
<line x1="434.2" y1="270.05" x2="488.5" y2="270.05"/>
<line x1="434.2" y1="275.73" x2="488.5" y2="275.73"/>
<line x1="434.2" y1="281.4" x2="488.5" y2="281.4"/>
<line x1="434.2" y1="60.0" x2="434.2" y2="281.4"/>
<line x1="460.0" y1="60.0" x2="460.0" y2="281.4"/>
<line x1="488.5" y1="60.0" x2="488.5" y2="281.4"/>
</g>
<text x="434.3" y="58" font-size="5.4" fill="#333">id</text>
<text x="460.5" y="58" font-size="5.4" fill="#333">Annotation</text>
<g font-size="4.9" fill="#3a3a3a">
<text x="435.2" y="64.95">MAP2K1</text>
<text x="460.8" y="64.95">PI3K</text>
<text x="435.2" y="70.63">BRAF</text>
<text x="460.8" y="70.63">Driver</text>
<text x="435.2" y="76.3">KRAS</text>
<text x="460.8" y="76.3">Driver/PI3K</text>
<text x="435.2" y="81.98">XPO1</text>
<text x="460.8" y="81.98">Driver</text>
<text x="435.2" y="87.66">PLEKHA1</text>
<text x="460.8" y="87.66">PI3K</text>
<text x="435.2" y="93.33">NXF1</text>
<text x="460.8" y="93.33">Driver</text>
<text x="435.2" y="99.01">INPPL1</text>
<text x="460.8" y="99.01">PI3K</text>
<text x="435.2" y="104.69">ASXL1</text>
<text x="460.8" y="104.69">Driver</text>
<text x="435.2" y="110.37">ATF2</text>
<text x="460.8" y="110.37">PI3K</text>
<text x="435.2" y="116.04">ATM</text>
<text x="460.8" y="116.04">Driver</text>
<text x="435.2" y="121.72">BAZ2A</text>
<text x="460.8" y="121.72">Driver</text>
<text x="435.2" y="127.4">BCL2</text>
<text x="460.8" y="127.4">PI3K</text>
<text x="435.2" y="133.07">BIRC3</text>
<text x="460.8" y="133.07">Driver</text>
<text x="435.2" y="138.75">CHD2</text>
<text x="460.8" y="138.75">Driver</text>
<text x="435.2" y="144.43">EGR2</text>
<text x="460.8" y="144.43">Driver</text>
<text x="435.2" y="150.1">FBXW7</text>
<text x="460.8" y="150.1">Driver</text>
<text x="435.2" y="155.78">FOS</text>
<text x="460.8" y="155.78">PI3K</text>
<text x="435.2" y="161.46">HIST1H1E</text>
<text x="460.8" y="161.46">Driver</text>
<text x="435.2" y="167.14">IKZF3</text>
<text x="460.8" y="167.14">Driver</text>
<text x="435.2" y="172.81">IRF4</text>
<text x="460.8" y="172.81">Driver</text>
<text x="435.2" y="178.49">IRS1</text>
<text x="460.8" y="178.49">PI3K</text>
<text x="435.2" y="184.17">ITGA1</text>
<text x="460.8" y="184.17">PI3K</text>
<text x="435.2" y="189.84">ITGA2</text>
<text x="460.8" y="189.84">PI3K</text>
<text x="435.2" y="195.52">MGA</text>
<text x="460.8" y="195.52">Driver</text>
<text x="435.2" y="201.2">MTOR</text>
<text x="460.8" y="201.2">PI3K</text>
<text x="435.2" y="206.87">NFAT5</text>
<text x="460.8" y="206.87">PI3K</text>
<text x="435.2" y="212.55">NFATC1</text>
<text x="460.8" y="212.55">PI3K</text>
<text x="435.2" y="218.23">NRAS</text>
<text x="460.8" y="218.23">Driver/PI3K</text>
<text x="435.2" y="223.91">PDIA3</text>
<text x="460.8" y="223.91">PI3K</text>
<text x="435.2" y="229.58">PIK3R1</text>
<text x="460.8" y="229.58">PI3K</text>
<text x="435.2" y="235.26">PLCE1</text>
<text x="460.8" y="235.26">PI3K</text>
<text x="435.2" y="240.94">PLCL1</text>
<text x="460.8" y="240.94">PI3K</text>
<text x="435.2" y="246.61">PLCZ1</text>
<text x="460.8" y="246.61">PI3K</text>
<text x="435.2" y="252.29">POT1</text>
<text x="460.8" y="252.29">Driver</text>
<text x="435.2" y="257.97">PPP2R5C</text>
<text x="460.8" y="257.97">PI3K</text>
<text x="435.2" y="263.64">SAMHD1</text>
<text x="460.8" y="263.64">Driver</text>
<text x="435.2" y="269.32">SF3B1</text>
<text x="460.8" y="269.32">Driver</text>
<text x="435.2" y="275">SYK</text>
<text x="460.8" y="275">PI3K</text>
<text x="435.2" y="280.68">TP53</text>
<text x="460.8" y="280.68">Driver</text>
</g>
<defs><linearGradient id="rg" x1="0" x2="1" y1="0" y2="0"><stop offset="0" stop-color="#2a1a82"/><stop offset="0.25" stop-color="#7a70bc"/><stop offset="0.47" stop-color="#ffffff"/><stop offset="0.53" stop-color="#ffffff"/><stop offset="0.75" stop-color="#e08a78"/><stop offset="1" stop-color="#c82a10"/></linearGradient></defs>
<rect x="433.2" y="7.9" width="76.8" height="4.0" fill="url(#rg)"/>
<text x="433.1" y="16.5" font-size="5.4" fill="#333" textLength="19" lengthAdjust="spacingAndGlyphs">row min</text>
<text x="493.1" y="16.5" font-size="5.4" fill="#333" textLength="19.9" lengthAdjust="spacingAndGlyphs">row max</text>
<text x="432.7" y="25.7" font-size="6" fill="#333" textLength="25.4" lengthAdjust="spacingAndGlyphs">Responder</text>
<text x="464" y="25.7" font-size="6" fill="#333" textLength="37.4" lengthAdjust="spacingAndGlyphs">Non-Responder</text>
<rect x="433.4" y="28.3" width="5.4" height="5.5" fill="#1f9a45"/>
<rect x="463.4" y="28.3" width="5.5" height="5.5" fill="#cf1550"/>
<text x="45" y="290.5" font-size="7.3" fill="#222" textLength="414.5" lengthAdjust="spacingAndGlyphs">* Driver genes on the sex chromosomes are not included. IGV snapshots of significantly mutated driver gene <tspan font-style="italic">DDX3X</tspan>, on the</text>
<text x="45" y="299.1" font-size="7.3" fill="#222" textLength="185" lengthAdjust="spacingAndGlyphs">X chromosome, are shown in Supplementary Figure 1B.</text>
<text x="9.9" y="319.7" font-size="11" fill="#111" font-weight="bold" textLength="6.4" lengthAdjust="spacingAndGlyphs" stroke="#111" stroke-width="0.35">B</text>
<defs><linearGradient id="bg" x1="0" x2="0" y1="0" y2="1"><stop offset="0" stop-color="#ffffff"/><stop offset="1" stop-color="#e9e9e9"/></linearGradient></defs>
<rect x="31.5" y="328" width="197.3" height="114" fill="url(#bg)"/>
<g stroke="#e2e2e2" stroke-width="0.6">
<line x1="31.5" y1="435.8" x2="228.8" y2="435.8"/>
<line x1="31.5" y1="425.6" x2="228.8" y2="425.6"/>
<line x1="31.5" y1="415.4" x2="228.8" y2="415.4"/>
<line x1="31.5" y1="405.2" x2="228.8" y2="405.2"/>
<line x1="31.5" y1="395" x2="228.8" y2="395"/>
<line x1="31.5" y1="384.8" x2="228.8" y2="384.8"/>
<line x1="31.5" y1="374.6" x2="228.8" y2="374.6"/>
<line x1="31.5" y1="364.4" x2="228.8" y2="364.4"/>
<line x1="31.5" y1="354.2" x2="228.8" y2="354.2"/>
<line x1="31.5" y1="344" x2="228.8" y2="344"/>
<line x1="31.5" y1="333.8" x2="228.8" y2="333.8"/>
<line x1="130" y1="328" x2="130" y2="442"/>
</g>
<line x1="31.5" y1="328" x2="228.8" y2="328" stroke="#d8d8d8" stroke-width="0.6"/>
<line x1="228.8" y1="328" x2="228.8" y2="442" stroke="#c8c8c8" stroke-width="0.6"/>
<line x1="31.5" y1="328" x2="31.5" y2="442" stroke="#9a9a9a" stroke-width="0.8"/>
<line x1="31.5" y1="442" x2="228.8" y2="442" stroke="#8a8a8a" stroke-width="0.9"/>
<g stroke="#555" stroke-width="0.7">
<line x1="27.2" y1="435.8" x2="31.5" y2="435.8"/>
<line x1="27.2" y1="425.6" x2="31.5" y2="425.6"/>
<line x1="27.2" y1="415.4" x2="31.5" y2="415.4"/>
<line x1="27.2" y1="405.2" x2="31.5" y2="405.2"/>
<line x1="27.2" y1="395" x2="31.5" y2="395"/>
<line x1="27.2" y1="384.8" x2="31.5" y2="384.8"/>
<line x1="27.2" y1="374.6" x2="31.5" y2="374.6"/>
<line x1="27.2" y1="364.4" x2="31.5" y2="364.4"/>
<line x1="27.2" y1="354.2" x2="31.5" y2="354.2"/>
<line x1="27.2" y1="344" x2="31.5" y2="344"/>
<line x1="27.2" y1="333.8" x2="31.5" y2="333.8"/>
<line x1="31.5" y1="442" x2="31.5" y2="444.8"/>
<line x1="130" y1="442" x2="130" y2="444.8"/>
<line x1="228.6" y1="442" x2="228.6" y2="444.8"/>
</g>
<g font-size="5" fill="#333" text-anchor="end">
<text x="25.8" y="437.6">0.000</text>
<text x="25.8" y="427.4">0.100</text>
<text x="25.8" y="417.2">0.200</text>
<text x="25.8" y="407">0.300</text>
<text x="25.8" y="396.8">0.400</text>
<text x="25.8" y="386.6">0.500</text>
<text x="25.8" y="376.4">0.600</text>
<text x="25.8" y="366.2">0.700</text>
<text x="25.8" y="356">0.800</text>
<text x="25.8" y="345.8">0.900</text>
<text x="25.8" y="335.6">1.000</text>
</g>
<g font-size="4.6" fill="#444" text-anchor="middle">
<text x="31.5" y="451.3">1</text>
<text x="130" y="451.3">2</text>
<text x="228.6" y="451.3">3</text>
</g>
<polyline points="31.5,395 130,381.74 228.6,379.19" fill="none" stroke="#2c4a40" stroke-width="2.6" stroke-linejoin="round"/>
<circle cx="31.5" cy="395" r="1.3" fill="#6a7a74"/>
<circle cx="130" cy="381.74" r="1.3" fill="#6a7a74"/>
<circle cx="228.6" cy="379.19" r="1.3" fill="#6a7a74"/>
<polyline points="31.5,365.42 130,398.06 228.6,400.1" fill="none" stroke="#e4a458" stroke-width="1.4" stroke-linejoin="round"/>
<circle cx="31.5" cy="365.42" r="0.9" fill="#f0b060"/>
<circle cx="130" cy="398.06" r="0.9" fill="#f0b060"/>
<circle cx="228.6" cy="400.1" r="0.9" fill="#f0b060"/>
<polyline points="31.5,424.27 130,424.07 228.6,423.05" fill="none" stroke="#74bde6" stroke-width="1.8" stroke-linejoin="round"/>
<circle cx="31.5" cy="424.27" r="0.9" fill="#9cd0ee"/>
<circle cx="130" cy="424.07" r="0.9" fill="#9cd0ee"/>
<circle cx="228.6" cy="423.05" r="0.9" fill="#9cd0ee"/>
<polyline points="31.5,334.82 130,334.82 228.6,334.82" fill="none" stroke="#45a23c" stroke-width="2.0" stroke-linejoin="round"/>
<circle cx="31.5" cy="334.82" r="1" fill="#7cc070"/>
<circle cx="130" cy="334.82" r="1" fill="#7cc070"/>
<circle cx="228.6" cy="334.82" r="1" fill="#7cc070"/>
<text x="108.5" y="316.6" font-size="7.3" fill="#222">JB-0055</text>
<text x="108.5" y="325.3" font-size="7.3" fill="#222" font-style="italic">MAP2K1</text>
<rect x="274.2" y="327.6" width="194.3" height="115.7" fill="url(#bg)"/>
<g stroke="#e2e2e2" stroke-width="0.6">
<line x1="274.2" y1="437.1" x2="468.5" y2="437.1"/>
<line x1="274.2" y1="426.75" x2="468.5" y2="426.75"/>
<line x1="274.2" y1="416.4" x2="468.5" y2="416.4"/>
<line x1="274.2" y1="406.05" x2="468.5" y2="406.05"/>
<line x1="274.2" y1="395.7" x2="468.5" y2="395.7"/>
<line x1="274.2" y1="385.35" x2="468.5" y2="385.35"/>
<line x1="274.2" y1="375" x2="468.5" y2="375"/>
<line x1="274.2" y1="364.65" x2="468.5" y2="364.65"/>
<line x1="274.2" y1="354.3" x2="468.5" y2="354.3"/>
<line x1="274.2" y1="343.95" x2="468.5" y2="343.95"/>
<line x1="274.2" y1="333.6" x2="468.5" y2="333.6"/>
</g>
<line x1="274.2" y1="327.6" x2="468.5" y2="327.6" stroke="#d8d8d8" stroke-width="0.6"/>
<line x1="468.5" y1="327.6" x2="468.5" y2="443.3" stroke="#c8c8c8" stroke-width="0.6"/>
<line x1="274.2" y1="327.6" x2="274.2" y2="443.3" stroke="#9a9a9a" stroke-width="0.8"/>
<line x1="274.2" y1="443.3" x2="468.5" y2="443.3" stroke="#8a8a8a" stroke-width="0.9"/>
<g stroke="#555" stroke-width="0.7">
<line x1="269.9" y1="437.1" x2="274.2" y2="437.1"/>
<line x1="269.9" y1="426.75" x2="274.2" y2="426.75"/>
<line x1="269.9" y1="416.4" x2="274.2" y2="416.4"/>
<line x1="269.9" y1="406.05" x2="274.2" y2="406.05"/>
<line x1="269.9" y1="395.7" x2="274.2" y2="395.7"/>
<line x1="269.9" y1="385.35" x2="274.2" y2="385.35"/>
<line x1="269.9" y1="375" x2="274.2" y2="375"/>
<line x1="269.9" y1="364.65" x2="274.2" y2="364.65"/>
<line x1="269.9" y1="354.3" x2="274.2" y2="354.3"/>
<line x1="269.9" y1="343.95" x2="274.2" y2="343.95"/>
<line x1="269.9" y1="333.6" x2="274.2" y2="333.6"/>
<line x1="274.2" y1="443.3" x2="274.2" y2="446.1"/>
<line x1="468.3" y1="443.3" x2="468.3" y2="446.1"/>
</g>
<g font-size="5" fill="#333" text-anchor="end">
<text x="268.5" y="438.9">0.000</text>
<text x="268.5" y="428.55">0.100</text>
<text x="268.5" y="418.2">0.200</text>
<text x="268.5" y="407.85">0.300</text>
<text x="268.5" y="397.5">0.400</text>
<text x="268.5" y="387.15">0.500</text>
<text x="268.5" y="376.8">0.600</text>
<text x="268.5" y="366.45">0.700</text>
<text x="268.5" y="356.1">0.800</text>
<text x="268.5" y="345.75">0.900</text>
<text x="268.5" y="335.4">1.000</text>
</g>
<g font-size="6.0" fill="#444" text-anchor="middle">
<text x="274.2" y="453.8">1</text>
<text x="468.3" y="453.8">2</text>
</g>
<polyline points="274.2,412.26 468.3,402.95" fill="none" stroke="#8ccaa4" stroke-width="1.2" stroke-linejoin="round"/>
<circle cx="274.2" cy="412.26" r="0.9" fill="#a0d8b4"/>
<circle cx="468.3" cy="402.95" r="0.9" fill="#a0d8b4"/>
<polyline points="274.2,408.12 468.3,355.34" fill="none" stroke="#e2c2a6" stroke-width="0.9" stroke-linejoin="round"/>
<circle cx="274.2" cy="408.12" r="0.9" fill="#f0b060"/>
<circle cx="468.3" cy="355.34" r="0.9" fill="#f0b060"/>
<polyline points="274.2,430.68 468.3,437.1" fill="none" stroke="#2c4a40" stroke-width="1.3" stroke-linejoin="round"/>
<circle cx="274.2" cy="430.68" r="0.9" fill="#556"/>
<circle cx="468.3" cy="437.1" r="0.9" fill="#556"/>
<polyline points="274.2,431.1 468.3,422.09" fill="none" stroke="#6e78cc" stroke-width="1.5" stroke-linejoin="round"/>
<circle cx="274.2" cy="431.1" r="0.9" fill="#8890d8"/>
<circle cx="468.3" cy="422.09" r="0.9" fill="#8890d8"/>
<polyline points="274.2,412.78 468.3,432.96" fill="none" stroke="#b03040" stroke-width="1.8" stroke-linejoin="round"/>
<circle cx="274.2" cy="412.78" r="0.9" fill="#c05060"/>
<circle cx="468.3" cy="432.96" r="0.9" fill="#c05060"/>
<polyline points="274.2,373.45 468.3,343.43" fill="none" stroke="#74bde6" stroke-width="1.8" stroke-linejoin="round"/>
<circle cx="274.2" cy="373.45" r="0.9" fill="#9cd0ee"/>
<circle cx="468.3" cy="343.43" r="0.9" fill="#9cd0ee"/>
<polyline points="274.2,334.63 468.3,334.63" fill="none" stroke="#45a23c" stroke-width="2.6" stroke-linejoin="round"/>
<circle cx="274.2" cy="334.63" r="1.3" fill="#7cc070"/>
<circle cx="468.3" cy="334.63" r="1.3" fill="#7cc070"/>
<text x="354.2" y="316.6" font-size="7.3" fill="#222">JB-0061</text>
<text x="354.2" y="325.3" font-size="7.3" fill="#222" font-style="italic">PLEKHA1</text>
<text x="134.5" y="356.4" font-size="7.3" fill="#cc4a2a" textLength="53" lengthAdjust="spacingAndGlyphs" stroke="#cc4a2a" stroke-width="0.06"><tspan font-style="italic">MAP2K1</tspan> cluster</text>
<text x="306" y="346" font-size="7.3" fill="#cc4a2a" textLength="57" lengthAdjust="spacingAndGlyphs" stroke="#cc4a2a" stroke-width="0.06"><tspan font-style="italic">PLEKHA1</tspan> cluster</text>
<line x1="157.6" y1="365.8" x2="157.6" y2="376" stroke="#111" stroke-width="1"/>
<path d="M154.6,371.6 L157.6,379 L160.6,371.6 L157.6,373.6 Z" fill="#111"/>
<line x1="327.8" y1="348.8" x2="327.8" y2="360.3" stroke="#111" stroke-width="1"/>
<path d="M324.8,355.9 L327.8,363.3 L330.8,355.9 L327.8,357.9 Z" fill="#111"/>
<text x="41.8" y="461.6" font-size="7.3" fill="#222" text-anchor="middle">T-01</text>
<text x="41.8" y="471.1" font-size="7.3" fill="#222" text-anchor="middle">10 months on Idela</text>
<text x="41.8" y="479.9" font-size="7.3" fill="#222" text-anchor="middle"><tspan font-style="italic">MAP2K1</tspan> CCF=0.41</text>
<text x="130.5" y="461.6" font-size="7.3" fill="#222" text-anchor="middle">T-02</text>
<text x="130.5" y="471.1" font-size="7.3" fill="#222" text-anchor="middle">1.5 years on Idela</text>
<text x="130.5" y="479.9" font-size="7.3" fill="#222" text-anchor="middle"><tspan font-style="italic">MAP2K1</tspan> CCF=0.6</text>
<text x="218.3" y="461.6" font-size="7.3" fill="#222" text-anchor="middle">T-03</text>
<text x="218.3" y="471.1" font-size="7.3" fill="#222" text-anchor="middle">D1 post Idela</text>
<text x="218.3" y="479.9" font-size="7.3" fill="#222" text-anchor="middle"><tspan font-style="italic">MAP2K1</tspan> CCF=0.68</text>
<text x="291.2" y="463.5" font-size="7.3" fill="#222" text-anchor="middle">T-01</text>
<text x="291.2" y="473" font-size="7.3" fill="#222" text-anchor="middle">Pre Idela</text>
<text x="291.2" y="481.8" font-size="7.3" fill="#222" text-anchor="middle"><tspan font-style="italic">PLEKHA1</tspan> CCF=0.67</text>
<text x="452.3" y="463.5" font-size="7.3" fill="#222" text-anchor="middle">T-02</text>
<text x="452.3" y="473" font-size="7.3" fill="#222" text-anchor="middle">42 days on Idela</text>
<text x="452.3" y="481.8" font-size="7.3" fill="#222" text-anchor="middle"><tspan font-style="italic">PLEKHA1</tspan> CCF=0.85</text>
<text x="11.2" y="502" font-size="11.2" fill="#111" font-weight="bold" textLength="7" lengthAdjust="spacingAndGlyphs" stroke="#111" stroke-width="0.3">C</text>
<text x="93" y="503.6" font-size="6.4" fill="#222" textLength="47.8" lengthAdjust="spacingAndGlyphs">Enrichment plot:</text>
<text x="37.3" y="511" font-size="6.6" fill="#222" textLength="158.8" lengthAdjust="spacingAndGlyphs">REACTOME_PROLONGED_ERK_ACTIVATION_EVENTS</text>
<g stroke="#ececec" stroke-width="0.5">
<line x1="74.72" y1="515.8" x2="74.72" y2="582.5"/>
<line x1="103.65" y1="515.8" x2="103.65" y2="582.5"/>
<line x1="132.57" y1="515.8" x2="132.57" y2="582.5"/>
<line x1="161.5" y1="515.8" x2="161.5" y2="582.5"/>
<line x1="190.43" y1="515.8" x2="190.43" y2="582.5"/>
<line x1="45.9" y1="529.94" x2="206.1" y2="529.94"/>
<line x1="45.9" y1="540.78" x2="206.1" y2="540.78"/>
<line x1="45.9" y1="551.62" x2="206.1" y2="551.62"/>
<line x1="45.9" y1="562.46" x2="206.1" y2="562.46"/>
<line x1="45.9" y1="573.3" x2="206.1" y2="573.3"/>
</g>
<line x1="45.9" y1="519.1" x2="206.1" y2="519.1" stroke="#d8d8d8" stroke-width="0.6"/>
<line x1="45.9" y1="582.9" x2="206.1" y2="582.9" stroke="#d4d4d4" stroke-width="0.9"/>
<path d="M45.8,519.1 L65.05,532.75 L65.05,521.48 L91.24,540.05 L91.24,535.79 L94.91,538.4 L94.91,534.71 L98.2,537.04 L98.2,533.84 L101.56,536.22 L101.56,533.52 L102.83,534.42 L102.83,531.89 L104.55,533.11 L104.55,530.7 L115.42,538.4 L115.42,537.64 L119.41,540.47 L119.41,540.13 L119.44,540.15 L119.44,539.8 L119.78,540.04 L119.78,539.8 L120.54,540.35 L120.54,540.24 L128.72,546.04 L128.72,545.12 L143.91,555.89 L143.91,552.81 L149.46,556.74 L149.46,552.49 L161.8,561.24 L161.8,554.44 L198.28,580.31" fill="none" stroke="#4a9e2c" stroke-width="1.3" stroke-linejoin="round"/>
<line x1="198.28" y1="580.31" x2="198.28" y2="518.88" stroke="#6cb85a" stroke-width="1.1"/>
<circle cx="198.28" cy="518.88" r="0.8" fill="#3a8a2a"/>
<g stroke="#707070" stroke-width="0.6">
<line x1="65.05" y1="583.4" x2="65.05" y2="605.3"/>
<line x1="91.24" y1="583.4" x2="91.24" y2="605.3"/>
<line x1="94.91" y1="583.4" x2="94.91" y2="605.3"/>
<line x1="98.2" y1="583.4" x2="98.2" y2="605.3"/>
<line x1="101.56" y1="583.4" x2="101.56" y2="605.3"/>
<line x1="102.83" y1="583.4" x2="102.83" y2="605.3"/>
<line x1="104.55" y1="583.4" x2="104.55" y2="605.3"/>
<line x1="115.42" y1="583.4" x2="115.42" y2="605.3"/>
<line x1="119.41" y1="583.4" x2="119.41" y2="605.3"/>
<line x1="119.44" y1="583.4" x2="119.44" y2="605.3"/>
<line x1="119.78" y1="583.4" x2="119.78" y2="605.3"/>
<line x1="120.54" y1="583.4" x2="120.54" y2="605.3"/>
<line x1="128.72" y1="583.4" x2="128.72" y2="605.3"/>
<line x1="143.91" y1="583.4" x2="143.91" y2="605.3"/>
<line x1="149.46" y1="583.4" x2="149.46" y2="605.3"/>
<line x1="161.8" y1="583.4" x2="161.8" y2="605.3"/>
<line x1="198.28" y1="583.4" x2="198.28" y2="605.3"/>
</g>
<rect x="46.3" y="605.4" width="4.25" height="5.7" fill="#d02a2a"/>
<rect x="50.5" y="605.4" width="20.45" height="5.7" fill="#d84848"/>
<rect x="70.9" y="605.4" width="10.85" height="5.7" fill="#dc6272"/>
<rect x="81.7" y="605.4" width="17.75" height="5.7" fill="#e07474"/>
<rect x="99.4" y="605.4" width="21.55" height="5.7" fill="#eab2d8"/>
<rect x="120.9" y="605.4" width="23.35" height="5.7" fill="#cacaec"/>
<rect x="144.2" y="605.4" width="16.55" height="5.7" fill="#b9b5e4"/>
<rect x="160.7" y="605.4" width="9.85" height="5.7" fill="#7a72c8"/>
<rect x="170.5" y="605.4" width="20.45" height="5.7" fill="#5040a2"/>
<rect x="190.9" y="605.4" width="7.35" height="5.7" fill="#2e1888"/>
<text x="48.6" y="614.9" font-size="3.6" fill="#e04444" textLength="41.6" lengthAdjust="spacingAndGlyphs">'0' (positively correlated)</text>
<g stroke="#ececec" stroke-width="0.5">
<line x1="74.72" y1="611.3" x2="74.72" y2="655.3"/>
<line x1="103.65" y1="611.3" x2="103.65" y2="655.3"/>
<line x1="132.57" y1="611.3" x2="132.57" y2="655.3"/>
<line x1="161.5" y1="611.3" x2="161.5" y2="655.3"/>
<line x1="190.43" y1="611.3" x2="190.43" y2="655.3"/>
<line x1="45.9" y1="621.65" x2="206.1" y2="621.65"/>
<line x1="45.9" y1="640.95" x2="206.1" y2="640.95"/>
<line x1="45.9" y1="650.6" x2="206.1" y2="650.6"/>
</g>
<path d="M45.8,631.3 L45.8,621.07 L46.26,622.11 L46.73,623 L47.19,623.77 L47.65,624.44 L48.11,625.02 L48.58,625.52 L49.04,625.95 L49.5,626.33 L49.97,626.66 L50.43,626.95 L50.89,627.2 L51.35,627.43 L51.82,627.62 L52.28,627.8 L52.74,627.95 L53.2,628.09 L53.67,628.21 L54.13,628.32 L54.59,628.42 L55.06,628.52 L55.52,628.6 L55.98,628.67 L56.44,628.75 L56.91,628.81 L57.37,628.87 L57.83,628.93 L58.3,628.98 L58.76,629.03 L59.22,629.08 L59.68,629.13 L60.15,629.17 L60.61,629.21 L61.07,629.26 L61.54,629.3 L62,629.33 L62.46,629.37 L62.92,629.41 L63.39,629.44 L63.85,629.48 L64.31,629.51 L64.77,629.55 L65.24,629.58 L65.7,629.61 L66.16,629.64 L66.63,629.67 L67.09,629.7 L67.55,629.73 L68.01,629.76 L68.48,629.79 L68.94,629.82 L69.4,629.85 L69.87,629.88 L70.33,629.91 L70.79,629.94 L71.25,629.96 L71.72,629.99 L72.18,630.02 L72.64,630.04 L73.11,630.07 L73.57,630.1 L74.03,630.12 L74.49,630.15 L74.96,630.17 L75.42,630.19 L75.88,630.22 L76.34,630.24 L76.81,630.27 L77.27,630.29 L77.73,630.31 L78.2,630.34 L78.66,630.36 L79.12,630.38 L79.58,630.4 L80.05,630.42 L80.51,630.45 L80.97,630.47 L81.44,630.49 L81.9,630.51 L82.36,630.53 L82.82,630.55 L83.29,630.57 L83.75,630.59 L84.21,630.61 L84.68,630.62 L85.14,630.64 L85.6,630.66 L86.06,630.68 L86.53,630.7 L86.99,630.71 L87.45,630.73 L87.91,630.75 L88.38,630.76 L88.84,630.78 L89.3,630.8 L89.77,630.81 L90.23,630.83 L90.69,630.84 L91.15,630.86 L91.62,630.87 L92.08,630.89 L92.54,630.9 L93.01,630.91 L93.47,630.93 L93.93,630.94 L94.39,630.95 L94.86,630.97 L95.32,630.98 L95.78,630.99 L96.25,631 L96.71,631.02 L97.17,631.03 L97.63,631.04 L98.1,631.05 L98.56,631.06 L99.02,631.07 L99.48,631.08 L99.95,631.09 L100.41,631.1 L100.87,631.11 L101.34,631.12 L101.8,631.13 L102.26,631.14 L102.72,631.14 L103.19,631.15 L103.65,631.16 L104.11,631.17 L104.58,631.18 L105.04,631.18 L105.5,631.19 L105.96,631.2 L106.43,631.2 L106.89,631.21 L107.35,631.22 L107.82,631.22 L108.28,631.23 L108.74,631.23 L109.2,631.24 L109.67,631.24 L110.13,631.25 L110.59,631.25 L111.05,631.26 L111.52,631.26 L111.98,631.26 L112.44,631.27 L112.91,631.27 L113.37,631.27 L113.83,631.28 L114.29,631.28 L114.76,631.28 L115.22,631.29 L115.68,631.29 L116.15,631.29 L116.61,631.29 L117.07,631.29 L117.53,631.29 L118,631.3 L118.46,631.3 L118.92,631.3 L119.39,631.3 L119.85,631.3 L120.31,631.3 L120.77,631.3 L121.24,631.3 L121.7,631.3 L122.16,631.3 L122.62,631.3 L123.09,631.31 L123.55,631.31 L124.01,631.32 L124.48,631.32 L124.94,631.33 L125.4,631.33 L125.86,631.34 L126.33,631.35 L126.79,631.35 L127.25,631.36 L127.72,631.37 L128.18,631.37 L128.64,631.38 L129.1,631.39 L129.57,631.4 L130.03,631.4 L130.49,631.41 L130.96,631.42 L131.42,631.43 L131.88,631.44 L132.34,631.45 L132.81,631.46 L133.27,631.46 L133.73,631.47 L134.19,631.48 L134.66,631.49 L135.12,631.5 L135.58,631.51 L136.05,631.52 L136.51,631.53 L136.97,631.54 L137.43,631.55 L137.9,631.56 L138.36,631.57 L138.82,631.58 L139.29,631.6 L139.75,631.61 L140.21,631.62 L140.67,631.63 L141.14,631.64 L141.6,631.65 L142.06,631.66 L142.53,631.67 L142.99,631.69 L143.45,631.7 L143.91,631.71 L144.38,631.72 L144.84,631.73 L145.3,631.75 L145.76,631.76 L146.23,631.77 L146.69,631.78 L147.15,631.8 L147.62,631.81 L148.08,631.82 L148.54,631.83 L149,631.85 L149.47,631.86 L149.93,631.87 L150.39,631.89 L150.86,631.9 L151.32,631.91 L151.78,631.93 L152.24,631.94 L152.71,631.95 L153.17,631.97 L153.63,631.98 L154.1,631.99 L154.56,632.01 L155.02,632.02 L155.48,632.04 L155.95,632.05 L156.41,632.07 L156.87,632.08 L157.33,632.09 L157.8,632.11 L158.26,632.12 L158.72,632.14 L159.19,632.15 L159.65,632.17 L160.11,632.18 L160.57,632.2 L161.04,632.21 L161.5,632.23 L161.96,632.24 L162.43,632.26 L162.89,632.27 L163.35,632.29 L163.81,632.3 L164.28,632.32 L164.74,632.33 L165.2,632.35 L165.67,632.37 L166.13,632.38 L166.59,632.4 L167.05,632.41 L167.52,632.43 L167.98,632.44 L168.44,632.46 L168.9,632.48 L169.37,632.49 L169.83,632.51 L170.29,632.53 L170.76,632.54 L171.22,632.56 L171.68,632.57 L172.14,632.59 L172.61,632.61 L173.07,632.62 L173.53,632.64 L174,632.66 L174.46,632.67 L174.92,632.69 L175.38,632.71 L175.85,632.73 L176.31,632.74 L176.77,632.76 L177.24,632.78 L177.7,632.79 L178.16,632.81 L178.62,632.83 L179.09,632.85 L179.55,632.86 L180.01,632.88 L180.47,632.9 L180.94,632.92 L181.4,632.93 L181.86,632.95 L182.33,632.97 L182.79,632.99 L183.25,633.01 L183.71,633.02 L184.18,633.04 L184.64,633.06 L185.1,633.08 L185.57,633.1 L186.03,633.12 L186.49,633.14 L186.95,633.16 L187.42,633.18 L187.88,633.2 L188.34,633.22 L188.81,633.24 L189.27,633.27 L189.73,633.3 L190.19,633.33 L190.66,633.37 L191.12,633.41 L191.58,633.47 L192.04,633.54 L192.51,633.63 L192.97,633.75 L193.43,633.91 L193.9,634.13 L194.36,634.42 L194.82,634.83 L195.28,635.39 L195.75,636.15 L196.21,637.22 L196.67,638.7 L197.14,640.76 L197.6,643.62 L198.06,647.61 L198.28,650.99 L198.28,631.3 Z" fill="#c6c6c6" stroke="#b4b4b4" stroke-width="0.3"/>
<line x1="45.9" y1="631.3" x2="206.1" y2="631.3" stroke="#bdbdbd" stroke-width="0.4"/>
<line x1="121.69" y1="611.3" x2="121.69" y2="655.3" stroke="#9a9a9a" stroke-width="0.5" stroke-dasharray="0.8,0.8"/>
<text x="105.9" y="635" font-size="3.6" fill="#333" textLength="31.8" lengthAdjust="spacingAndGlyphs">Zero cross at 6559</text>
<text x="126.4" y="653.8" font-size="3.6" fill="#5a58c0" textLength="43.4" lengthAdjust="spacingAndGlyphs">'1' (negatively correlated)</text>
<path d="M45.9,515.8 L206.1,515.8 L206.1,655.3 L45.9,655.3 Z" fill="none" stroke="#3a3a3a" stroke-width="1.2"/>
<g stroke="#444" stroke-width="0.8">
<line x1="43.3" y1="519.1" x2="45.9" y2="519.1"/>
<line x1="43.3" y1="529.94" x2="45.9" y2="529.94"/>
<line x1="43.3" y1="540.78" x2="45.9" y2="540.78"/>
<line x1="43.3" y1="551.62" x2="45.9" y2="551.62"/>
<line x1="43.3" y1="562.46" x2="45.9" y2="562.46"/>
<line x1="43.3" y1="573.3" x2="45.9" y2="573.3"/>
<line x1="43.3" y1="612" x2="45.9" y2="612"/>
<line x1="43.3" y1="621.65" x2="45.9" y2="621.65"/>
<line x1="43.3" y1="631.3" x2="45.9" y2="631.3"/>
<line x1="43.3" y1="640.95" x2="45.9" y2="640.95"/>
<line x1="43.3" y1="650.6" x2="45.9" y2="650.6"/>
<line x1="45.8" y1="655.3" x2="45.8" y2="657.9"/>
<line x1="74.72" y1="655.3" x2="74.72" y2="657.9"/>
<line x1="103.65" y1="655.3" x2="103.65" y2="657.9"/>
<line x1="132.57" y1="655.3" x2="132.57" y2="657.9"/>
<line x1="161.5" y1="655.3" x2="161.5" y2="657.9"/>
<line x1="190.43" y1="655.3" x2="190.43" y2="657.9"/>
</g>
<g font-size="5.6" fill="#333" text-anchor="end">
<text x="42.3" y="521.1">0.0</text>
<text x="42.3" y="531.94">-0.1</text>
<text x="42.3" y="542.78">-0.2</text>
<text x="42.3" y="553.62">-0.3</text>
<text x="42.3" y="564.46">-0.4</text>
<text x="42.3" y="575.3">-0.5</text>
<text x="42.3" y="614">1.0</text>
<text x="42.3" y="623.65">0.5</text>
<text x="42.3" y="633.3">0.0</text>
<text x="42.3" y="642.95">-0.5</text>
<text x="42.3" y="652.6">-1.0</text>
</g>
<g font-size="5.6" fill="#333" text-anchor="middle">
<text x="45.8" y="664.8">0</text>
<text x="74.72" y="664.8">2,500</text>
<text x="103.65" y="664.8">5,000</text>
<text x="132.57" y="664.8">7,500</text>
<text x="161.5" y="664.8">10,000</text>
<text x="190.43" y="664.8">12,500</text>
</g>
<text x="91.1" y="673.4" font-size="7.4" fill="#222" textLength="61.6" lengthAdjust="spacingAndGlyphs">Rank in ordered dataset</text>
<text transform="translate(29.7,545.4) rotate(-90)" font-size="7.4" fill="#333" text-anchor="middle" textLength="56.6" lengthAdjust="spacingAndGlyphs">Enrichment score (ES)</text>
<text transform="translate(31.2,632.1) rotate(-90)" font-size="7.4" fill="#333" text-anchor="middle" textLength="84" lengthAdjust="spacingAndGlyphs">Ranked list metric (signal2noise)</text>
<rect x="54.8" y="676.8" width="140.2" height="8.3" rx="1" fill="#fff" stroke="#333" stroke-width="0.8"/>
<line x1="57" y1="681" x2="63" y2="681" stroke="#7cc46a" stroke-width="1"/>
<text x="66" y="682.9" font-size="5.3" fill="#333" textLength="38.6" lengthAdjust="spacingAndGlyphs">Enrichment profile</text>
<line x1="108.5" y1="681" x2="113.8" y2="681" stroke="#333" stroke-width="1"/>
<text x="117" y="682.9" font-size="5.3" fill="#333" textLength="7.6" lengthAdjust="spacingAndGlyphs">Hits</text>
<line x1="128.3" y1="680.6" x2="133.2" y2="680.6" stroke="#ccc" stroke-width="0.8"/>
<line x1="137.3" y1="682" x2="142.2" y2="682" stroke="#ccc" stroke-width="0.8"/>
<text x="145" y="682.9" font-size="5.3" fill="#333" textLength="46.7" lengthAdjust="spacingAndGlyphs">Ranking metric scores</text>
<rect x="213.4" y="660.94" width="259.8" height="19.28" fill="#d68b7e"/>
<g stroke="#333" stroke-width="0.8">
<line x1="213.4" y1="506.7" x2="473.2" y2="506.7"/>
<line x1="213.4" y1="516.34" x2="473.2" y2="516.34"/>
<line x1="213.4" y1="525.98" x2="473.2" y2="525.98"/>
<line x1="213.4" y1="535.62" x2="473.2" y2="535.62"/>
<line x1="213.4" y1="545.26" x2="473.2" y2="545.26"/>
<line x1="213.4" y1="554.9" x2="473.2" y2="554.9"/>
<line x1="213.4" y1="564.54" x2="473.2" y2="564.54"/>
<line x1="213.4" y1="574.18" x2="473.2" y2="574.18"/>
<line x1="213.4" y1="583.82" x2="473.2" y2="583.82"/>
<line x1="213.4" y1="593.46" x2="473.2" y2="593.46"/>
<line x1="213.4" y1="603.1" x2="473.2" y2="603.1"/>
<line x1="213.4" y1="612.74" x2="473.2" y2="612.74"/>
<line x1="213.4" y1="622.38" x2="473.2" y2="622.38"/>
<line x1="213.4" y1="632.02" x2="473.2" y2="632.02"/>
<line x1="213.4" y1="641.66" x2="473.2" y2="641.66"/>
<line x1="213.4" y1="651.3" x2="473.2" y2="651.3"/>
<line x1="213.4" y1="660.94" x2="473.2" y2="660.94"/>
<line x1="213.4" y1="670.58" x2="473.2" y2="670.58"/>
<line x1="213.4" y1="680.22" x2="473.2" y2="680.22"/>
<line x1="213.4" y1="506.7" x2="213.4" y2="680.22"/>
<line x1="246.6" y1="506.7" x2="246.6" y2="680.22"/>
<line x1="306.3" y1="506.7" x2="306.3" y2="680.22"/>
<line x1="372.3" y1="506.7" x2="372.3" y2="680.22"/>
<line x1="412.3" y1="506.7" x2="412.3" y2="680.22"/>
<line x1="473.2" y1="506.7" x2="473.2" y2="680.22"/>
</g>
<g font-size="5.1" fill="#333">
<text x="215.6" y="514.05">PROBE</text>
<text x="276.45" y="514.05" text-anchor="middle">RANK IN GENE LIST</text>
<text x="339.3" y="514.05" text-anchor="middle">RANK METRIC SCORE</text>
<text x="392.3" y="514.05" text-anchor="middle">RUNNING ES</text>
<text x="442.75" y="514.05" text-anchor="middle">CORE ENRICHMENT</text>
<text x="215.4" y="523.64">CRK</text>
<text x="276.45" y="523.64" text-anchor="middle">1664</text>
<text x="339.3" y="523.64" text-anchor="middle">0.114</text>
<text x="392.3" y="523.64" text-anchor="middle">-0.022</text>
<text x="414.6" y="523.64">No</text>
<text x="215.4" y="533.28">RAPGEF1</text>
<text x="276.45" y="533.28" text-anchor="middle">3927</text>
<text x="339.3" y="533.28" text-anchor="middle">0.043</text>
<text x="392.3" y="533.28" text-anchor="middle">-0.154</text>
<text x="414.6" y="533.28">No</text>
<text x="215.4" y="542.92">HRAS</text>
<text x="276.45" y="542.92" text-anchor="middle">4245</text>
<text x="339.3" y="542.92" text-anchor="middle">0.037</text>
<text x="392.3" y="542.92" text-anchor="middle">-0.144</text>
<text x="414.6" y="542.92">No</text>
<text x="215.4" y="552.56">MAPK3</text>
<text x="276.45" y="552.56" text-anchor="middle">4529</text>
<text x="339.3" y="552.56" text-anchor="middle">0.032</text>
<text x="392.3" y="552.56" text-anchor="middle">-0.136</text>
<text x="414.6" y="552.56">No</text>
<text x="215.4" y="562.2">KRAS</text>
<text x="276.45" y="562.2" text-anchor="middle">4819</text>
<text x="339.3" y="562.2" text-anchor="middle">0.028</text>
<text x="392.3" y="562.2" text-anchor="middle">-0.133</text>
<text x="414.6" y="562.2">No</text>
<text x="215.4" y="571.84">MAP2K2</text>
<text x="276.45" y="571.84" text-anchor="middle">4929</text>
<text x="339.3" y="571.84" text-anchor="middle">0.026</text>
<text x="392.3" y="571.84" text-anchor="middle">-0.118</text>
<text x="414.6" y="571.84">No</text>
<text x="215.4" y="581.48">KIDINS220</text>
<text x="276.45" y="581.48" text-anchor="middle">5078</text>
<text x="339.3" y="581.48" text-anchor="middle">0.023</text>
<text x="392.3" y="581.48" text-anchor="middle">-0.107</text>
<text x="414.6" y="581.48">No</text>
<text x="215.4" y="591.12">YWHAB</text>
<text x="276.45" y="591.12" text-anchor="middle">6017</text>
<text x="339.3" y="591.12" text-anchor="middle">0.009</text>
<text x="392.3" y="591.12" text-anchor="middle">-0.171</text>
<text x="414.6" y="591.12">No</text>
<text x="215.4" y="600.76">MAP2K1</text>
<text x="276.45" y="600.76" text-anchor="middle">6362</text>
<text x="339.3" y="600.76" text-anchor="middle">0.003</text>
<text x="392.3" y="600.76" text-anchor="middle">-0.194</text>
<text x="414.6" y="600.76">No</text>
<text x="215.4" y="610.4">MAPK1</text>
<text x="276.45" y="610.4" text-anchor="middle">6365</text>
<text x="339.3" y="610.4" text-anchor="middle">0.003</text>
<text x="392.3" y="610.4" text-anchor="middle">-0.191</text>
<text x="414.6" y="610.4">No</text>
<text x="215.4" y="620.04">PLCG1</text>
<text x="276.45" y="620.04" text-anchor="middle">6394</text>
<text x="339.3" y="620.04" text-anchor="middle">0.003</text>
<text x="392.3" y="620.04" text-anchor="middle">-0.191</text>
<text x="414.6" y="620.04">No</text>
<text x="215.4" y="629.68">RAF1</text>
<text x="276.45" y="629.68" text-anchor="middle">6460</text>
<text x="339.3" y="629.68" text-anchor="middle">0.001</text>
<text x="392.3" y="629.68" text-anchor="middle">-0.195</text>
<text x="414.6" y="629.68">No</text>
<text x="215.4" y="639.32">FRS2</text>
<text x="276.45" y="639.32" text-anchor="middle">7167</text>
<text x="339.3" y="639.32" text-anchor="middle">-0.009</text>
<text x="392.3" y="639.32" text-anchor="middle">-0.240</text>
<text x="414.6" y="639.32">No</text>
<text x="215.4" y="648.96">RAP1A</text>
<text x="276.45" y="648.96" text-anchor="middle">8480</text>
<text x="339.3" y="648.96" text-anchor="middle">-0.032</text>
<text x="392.3" y="648.96" text-anchor="middle">-0.311</text>
<text x="414.6" y="648.96">No</text>
<text x="215.4" y="658.6">NRAS</text>
<text x="276.45" y="658.6" text-anchor="middle">8959</text>
<text x="339.3" y="658.6" text-anchor="middle">-0.042</text>
<text x="392.3" y="658.6" text-anchor="middle">-0.308</text>
<text x="414.6" y="658.6">No</text>
<text x="215.4" y="668.24">BRAF</text>
<text x="276.45" y="668.24" text-anchor="middle">10026</text>
<text x="339.3" y="668.24" text-anchor="middle">-0.069</text>
<text x="392.3" y="668.24" text-anchor="middle">-0.326</text>
<text x="414.6" y="668.24">Yes</text>
<text x="215.4" y="677.88">CDK1</text>
<text x="276.45" y="677.88" text-anchor="middle">13179</text>
<text x="339.3" y="677.88" text-anchor="middle">-0.620</text>
<text x="392.3" y="677.88" text-anchor="middle">0.002</text>
<text x="414.6" y="677.88">Yes</text>
</g>
<rect x="0.5" y="0.5" width="519" height="691" fill="none" stroke="#111" stroke-width="1"/>
</svg>
</body></html>
